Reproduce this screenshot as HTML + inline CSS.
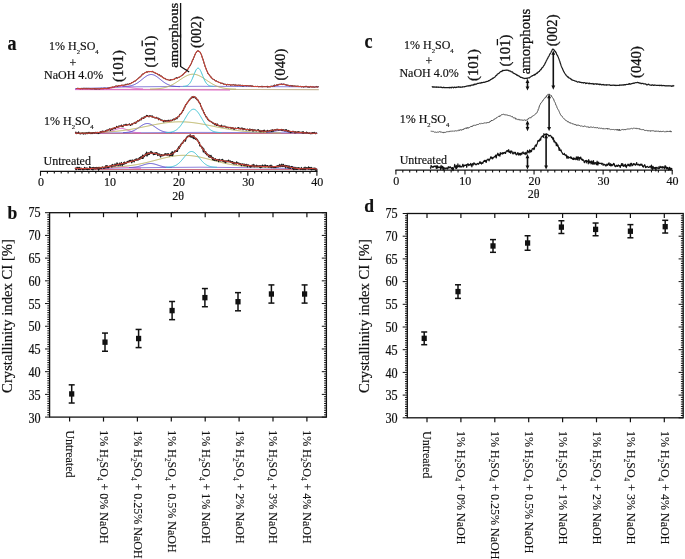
<!DOCTYPE html>
<html><head><meta charset="utf-8"><style>
html,body{margin:0;padding:0;background:#fff;}
svg{display:block;font-family:"Liberation Serif",serif;}
text{stroke:#111;stroke-width:0.18px;}
svg{will-change:transform;}
text.pk{stroke-width:0.3px;}
text.ns{stroke-width:0.12px;}
</style></head><body>
<svg width="685" height="559" viewBox="0 0 685 559">
<rect width="685" height="559" fill="#fff"/>
<text transform="translate(7.5,49.5) scale(1,1.12)" font-size="18" font-weight="bold" fill="#111">a</text>
<text transform="translate(364.5,48) scale(1,1.12)" font-size="18" font-weight="bold" fill="#111">c</text>
<text transform="translate(7.6,218.7) scale(1,1.1)" font-size="17.6" font-weight="bold" fill="#111">b</text>
<text transform="translate(364.3,212.2) scale(1,1.1)" font-size="17.6" font-weight="bold" fill="#111">d</text>
<line x1="40" y1="171.3" x2="317.4" y2="171.3" stroke="#111" stroke-width="1.3"/>
<line x1="40.5" y1="171.3" x2="40.5" y2="175.8" stroke="#111" stroke-width="1.1"/>
<line x1="47.41" y1="171.3" x2="47.41" y2="173.6" stroke="#111" stroke-width="1.1"/>
<line x1="54.32" y1="171.3" x2="54.32" y2="173.6" stroke="#111" stroke-width="1.1"/>
<line x1="61.23" y1="171.3" x2="61.23" y2="173.6" stroke="#111" stroke-width="1.1"/>
<line x1="68.14" y1="171.3" x2="68.14" y2="173.6" stroke="#111" stroke-width="1.1"/>
<line x1="75.05" y1="171.3" x2="75.05" y2="173.6" stroke="#111" stroke-width="1.1"/>
<line x1="81.96" y1="171.3" x2="81.96" y2="173.6" stroke="#111" stroke-width="1.1"/>
<line x1="88.87" y1="171.3" x2="88.87" y2="173.6" stroke="#111" stroke-width="1.1"/>
<line x1="95.78" y1="171.3" x2="95.78" y2="173.6" stroke="#111" stroke-width="1.1"/>
<line x1="102.69" y1="171.3" x2="102.69" y2="173.6" stroke="#111" stroke-width="1.1"/>
<line x1="109.6" y1="171.3" x2="109.6" y2="175.8" stroke="#111" stroke-width="1.1"/>
<line x1="116.51" y1="171.3" x2="116.51" y2="173.6" stroke="#111" stroke-width="1.1"/>
<line x1="123.42" y1="171.3" x2="123.42" y2="173.6" stroke="#111" stroke-width="1.1"/>
<line x1="130.33" y1="171.3" x2="130.33" y2="173.6" stroke="#111" stroke-width="1.1"/>
<line x1="137.24" y1="171.3" x2="137.24" y2="173.6" stroke="#111" stroke-width="1.1"/>
<line x1="144.15" y1="171.3" x2="144.15" y2="173.6" stroke="#111" stroke-width="1.1"/>
<line x1="151.06" y1="171.3" x2="151.06" y2="173.6" stroke="#111" stroke-width="1.1"/>
<line x1="157.97" y1="171.3" x2="157.97" y2="173.6" stroke="#111" stroke-width="1.1"/>
<line x1="164.88" y1="171.3" x2="164.88" y2="173.6" stroke="#111" stroke-width="1.1"/>
<line x1="171.79" y1="171.3" x2="171.79" y2="173.6" stroke="#111" stroke-width="1.1"/>
<line x1="178.7" y1="171.3" x2="178.7" y2="175.8" stroke="#111" stroke-width="1.1"/>
<line x1="185.61" y1="171.3" x2="185.61" y2="173.6" stroke="#111" stroke-width="1.1"/>
<line x1="192.52" y1="171.3" x2="192.52" y2="173.6" stroke="#111" stroke-width="1.1"/>
<line x1="199.43" y1="171.3" x2="199.43" y2="173.6" stroke="#111" stroke-width="1.1"/>
<line x1="206.34" y1="171.3" x2="206.34" y2="173.6" stroke="#111" stroke-width="1.1"/>
<line x1="213.25" y1="171.3" x2="213.25" y2="173.6" stroke="#111" stroke-width="1.1"/>
<line x1="220.16" y1="171.3" x2="220.16" y2="173.6" stroke="#111" stroke-width="1.1"/>
<line x1="227.07" y1="171.3" x2="227.07" y2="173.6" stroke="#111" stroke-width="1.1"/>
<line x1="233.98" y1="171.3" x2="233.98" y2="173.6" stroke="#111" stroke-width="1.1"/>
<line x1="240.89" y1="171.3" x2="240.89" y2="173.6" stroke="#111" stroke-width="1.1"/>
<line x1="247.8" y1="171.3" x2="247.8" y2="175.8" stroke="#111" stroke-width="1.1"/>
<line x1="254.71" y1="171.3" x2="254.71" y2="173.6" stroke="#111" stroke-width="1.1"/>
<line x1="261.62" y1="171.3" x2="261.62" y2="173.6" stroke="#111" stroke-width="1.1"/>
<line x1="268.53" y1="171.3" x2="268.53" y2="173.6" stroke="#111" stroke-width="1.1"/>
<line x1="275.44" y1="171.3" x2="275.44" y2="173.6" stroke="#111" stroke-width="1.1"/>
<line x1="282.35" y1="171.3" x2="282.35" y2="173.6" stroke="#111" stroke-width="1.1"/>
<line x1="289.26" y1="171.3" x2="289.26" y2="173.6" stroke="#111" stroke-width="1.1"/>
<line x1="296.17" y1="171.3" x2="296.17" y2="173.6" stroke="#111" stroke-width="1.1"/>
<line x1="303.08" y1="171.3" x2="303.08" y2="173.6" stroke="#111" stroke-width="1.1"/>
<line x1="309.99" y1="171.3" x2="309.99" y2="173.6" stroke="#111" stroke-width="1.1"/>
<line x1="316.9" y1="171.3" x2="316.9" y2="175.8" stroke="#111" stroke-width="1.1"/>
<text transform="translate(40.9,186) scale(1,1)" font-size="12" text-anchor="middle" fill="#111">0</text>
<text transform="translate(110,186) scale(1,1)" font-size="12" text-anchor="middle" fill="#111">10</text>
<text transform="translate(179.1,186) scale(1,1)" font-size="12" text-anchor="middle" fill="#111">20</text>
<text transform="translate(248.2,186) scale(1,1)" font-size="12" text-anchor="middle" fill="#111">30</text>
<text transform="translate(317.3,186) scale(1,1)" font-size="12" text-anchor="middle" fill="#111">40</text>
<text transform="translate(178,199.5) scale(1,1)" font-size="12" text-anchor="middle" fill="#111">2θ</text>
<line x1="395.4" y1="170.1" x2="672.7" y2="170.1" stroke="#111" stroke-width="1.3"/>
<line x1="395.9" y1="170.1" x2="395.9" y2="174.6" stroke="#111" stroke-width="1.1"/>
<line x1="402.81" y1="170.1" x2="402.81" y2="172.4" stroke="#111" stroke-width="1.1"/>
<line x1="409.71" y1="170.1" x2="409.71" y2="172.4" stroke="#111" stroke-width="1.1"/>
<line x1="416.62" y1="170.1" x2="416.62" y2="172.4" stroke="#111" stroke-width="1.1"/>
<line x1="423.53" y1="170.1" x2="423.53" y2="172.4" stroke="#111" stroke-width="1.1"/>
<line x1="430.44" y1="170.1" x2="430.44" y2="172.4" stroke="#111" stroke-width="1.1"/>
<line x1="437.34" y1="170.1" x2="437.34" y2="172.4" stroke="#111" stroke-width="1.1"/>
<line x1="444.25" y1="170.1" x2="444.25" y2="172.4" stroke="#111" stroke-width="1.1"/>
<line x1="451.16" y1="170.1" x2="451.16" y2="172.4" stroke="#111" stroke-width="1.1"/>
<line x1="458.07" y1="170.1" x2="458.07" y2="172.4" stroke="#111" stroke-width="1.1"/>
<line x1="464.97" y1="170.1" x2="464.97" y2="174.6" stroke="#111" stroke-width="1.1"/>
<line x1="471.88" y1="170.1" x2="471.88" y2="172.4" stroke="#111" stroke-width="1.1"/>
<line x1="478.79" y1="170.1" x2="478.79" y2="172.4" stroke="#111" stroke-width="1.1"/>
<line x1="485.7" y1="170.1" x2="485.7" y2="172.4" stroke="#111" stroke-width="1.1"/>
<line x1="492.6" y1="170.1" x2="492.6" y2="172.4" stroke="#111" stroke-width="1.1"/>
<line x1="499.51" y1="170.1" x2="499.51" y2="172.4" stroke="#111" stroke-width="1.1"/>
<line x1="506.42" y1="170.1" x2="506.42" y2="172.4" stroke="#111" stroke-width="1.1"/>
<line x1="513.33" y1="170.1" x2="513.33" y2="172.4" stroke="#111" stroke-width="1.1"/>
<line x1="520.24" y1="170.1" x2="520.24" y2="172.4" stroke="#111" stroke-width="1.1"/>
<line x1="527.14" y1="170.1" x2="527.14" y2="172.4" stroke="#111" stroke-width="1.1"/>
<line x1="534.05" y1="170.1" x2="534.05" y2="174.6" stroke="#111" stroke-width="1.1"/>
<line x1="540.96" y1="170.1" x2="540.96" y2="172.4" stroke="#111" stroke-width="1.1"/>
<line x1="547.87" y1="170.1" x2="547.87" y2="172.4" stroke="#111" stroke-width="1.1"/>
<line x1="554.77" y1="170.1" x2="554.77" y2="172.4" stroke="#111" stroke-width="1.1"/>
<line x1="561.68" y1="170.1" x2="561.68" y2="172.4" stroke="#111" stroke-width="1.1"/>
<line x1="568.59" y1="170.1" x2="568.59" y2="172.4" stroke="#111" stroke-width="1.1"/>
<line x1="575.5" y1="170.1" x2="575.5" y2="172.4" stroke="#111" stroke-width="1.1"/>
<line x1="582.4" y1="170.1" x2="582.4" y2="172.4" stroke="#111" stroke-width="1.1"/>
<line x1="589.31" y1="170.1" x2="589.31" y2="172.4" stroke="#111" stroke-width="1.1"/>
<line x1="596.22" y1="170.1" x2="596.22" y2="172.4" stroke="#111" stroke-width="1.1"/>
<line x1="603.12" y1="170.1" x2="603.12" y2="174.6" stroke="#111" stroke-width="1.1"/>
<line x1="610.03" y1="170.1" x2="610.03" y2="172.4" stroke="#111" stroke-width="1.1"/>
<line x1="616.94" y1="170.1" x2="616.94" y2="172.4" stroke="#111" stroke-width="1.1"/>
<line x1="623.85" y1="170.1" x2="623.85" y2="172.4" stroke="#111" stroke-width="1.1"/>
<line x1="630.75" y1="170.1" x2="630.75" y2="172.4" stroke="#111" stroke-width="1.1"/>
<line x1="637.66" y1="170.1" x2="637.66" y2="172.4" stroke="#111" stroke-width="1.1"/>
<line x1="644.57" y1="170.1" x2="644.57" y2="172.4" stroke="#111" stroke-width="1.1"/>
<line x1="651.48" y1="170.1" x2="651.48" y2="172.4" stroke="#111" stroke-width="1.1"/>
<line x1="658.38" y1="170.1" x2="658.38" y2="172.4" stroke="#111" stroke-width="1.1"/>
<line x1="665.29" y1="170.1" x2="665.29" y2="172.4" stroke="#111" stroke-width="1.1"/>
<line x1="672.2" y1="170.1" x2="672.2" y2="174.6" stroke="#111" stroke-width="1.1"/>
<text transform="translate(396.3,184.6) scale(1,1)" font-size="12" text-anchor="middle" fill="#111">0</text>
<text transform="translate(465.37,184.6) scale(1,1)" font-size="12" text-anchor="middle" fill="#111">10</text>
<text transform="translate(534.45,184.6) scale(1,1)" font-size="12" text-anchor="middle" fill="#111">20</text>
<text transform="translate(603.52,184.6) scale(1,1)" font-size="12" text-anchor="middle" fill="#111">30</text>
<text transform="translate(672.6,184.6) scale(1,1)" font-size="12" text-anchor="middle" fill="#111">40</text>
<text transform="translate(533.5,198) scale(1,1)" font-size="12" text-anchor="middle" fill="#111">2θ</text>
<polyline points="75,89.3 318.8,89.6" fill="none" stroke="#c8b89a" stroke-width="1.1" stroke-linejoin="round"/>
<polyline points="75,89.6 230,90" fill="none" stroke="#e060c8" stroke-width="1" stroke-linejoin="round"/>
<polyline points="75,88.6 110,87.6 125,86.9 200,86.3 318.8,86.9" fill="none" stroke="#8c84dc" stroke-width="1" stroke-linejoin="round"/>
<polyline points="101,88.92 101.5,88.91 102,88.89 102.5,88.87 103,88.85 103.5,88.83 104,88.8 104.5,88.77 105,88.74 105.5,88.7 106,88.66 106.5,88.62 107,88.57 107.5,88.52 108,88.46 108.5,88.4 109,88.33 109.5,88.26 110,88.19 110.5,88.11 111,88.03 111.5,87.94 112,87.86 112.5,87.76 113,87.67 113.5,87.58 114,87.48 114.5,87.39 115,87.3 115.5,87.2 116,87.11 116.5,87.03 117,86.94 117.5,86.87 118,86.79 118.5,86.73 119,86.67 119.5,86.62 120,86.58 120.5,86.54 121,86.52 121.5,86.5 122,86.5 122.5,86.5 123,86.52 123.5,86.54 124,86.58 124.5,86.62 125,86.67 125.5,86.73 126,86.79 126.5,86.87 127,86.94 127.5,87.03 128,87.11 128.5,87.2 129,87.3 129.5,87.39 130,87.48 130.5,87.58 131,87.67 131.5,87.76 132,87.86 132.5,87.94 133,88.03 133.5,88.11 134,88.19 134.5,88.26 135,88.33 135.5,88.4 136,88.46 136.5,88.52 137,88.57 137.5,88.62 138,88.66 138.5,88.7 139,88.74 139.5,88.77 140,88.8 140.5,88.83 141,88.85 141.5,88.87 142,88.89 142.5,88.91 143,88.92" fill="none" stroke="#e060c8" stroke-width="1" stroke-linejoin="round"/>
<polyline points="122.5,86.62 123,86.61 123.5,86.59 124,86.57 124.5,86.55 125,86.52 125.5,86.49 126,86.46 126.5,86.42 127,86.37 127.5,86.32 128,86.26 128.5,86.19 129,86.12 129.5,86.03 130,85.94 130.5,85.83 131,85.72 131.5,85.59 132,85.45 132.5,85.29 133,85.12 133.5,84.94 134,84.74 134.5,84.52 135,84.29 135.5,84.04 136,83.77 136.5,83.49 137,83.19 137.5,82.87 138,82.54 138.5,82.19 139,81.83 139.5,81.46 140,81.08 140.5,80.68 141,80.28 141.5,79.87 142,79.46 142.5,79.05 143,78.64 143.5,78.24 144,77.84 144.5,77.45 145,77.08 145.5,76.72 146,76.38 146.5,76.06 147,75.76 147.5,75.49 148,75.25 148.5,75.04 149,74.86 149.5,74.72 150,74.61 150.5,74.54 151,74.5 151.5,74.51 152,74.55 152.5,74.63 153,74.74 153.5,74.89 154,75.08 154.5,75.29 155,75.54 155.5,75.82 156,76.12 156.5,76.44 157,76.79 157.5,77.15 158,77.53 158.5,77.92 159,78.32 159.5,78.73 160,79.14 160.5,79.55 161,79.96 161.5,80.36 162,80.76 162.5,81.15 163,81.53 163.5,81.91 164,82.26 164.5,82.61 165,82.93 165.5,83.25 166,83.54 166.5,83.82 167,84.09 167.5,84.33 168,84.56 168.5,84.78 169,84.97 169.5,85.16 170,85.32 170.5,85.48 171,85.62 171.5,85.74 172,85.86 172.5,85.96 173,86.05 173.5,86.13 174,86.21 174.5,86.27 175,86.33 175.5,86.38 176,86.43 176.5,86.47 177,86.5 177.5,86.53 178,86.56 178.5,86.58 179,86.6 179.5,86.61 180,86.63" fill="none" stroke="#5a4ecf" stroke-width="1" stroke-linejoin="round"/>
<polyline points="150,89.11 150.5,89.1 151,89.09 151.5,89.08 152,89.06 152.5,89.04 153,89.03 153.5,89.01 154,88.98 154.5,88.96 155,88.93 155.5,88.9 156,88.87 156.5,88.83 157,88.79 157.5,88.75 158,88.7 158.5,88.65 159,88.6 159.5,88.54 160,88.48 160.5,88.41 161,88.33 161.5,88.25 162,88.17 162.5,88.08 163,87.98 163.5,87.87 164,87.76 164.5,87.64 165,87.51 165.5,87.37 166,87.23 166.5,87.08 167,86.92 167.5,86.75 168,86.57 168.5,86.38 169,86.18 169.5,85.98 170,85.76 170.5,85.54 171,85.3 171.5,85.06 172,84.81 172.5,84.55 173,84.28 173.5,84 174,83.71 174.5,83.42 175,83.11 175.5,82.81 176,82.49 176.5,82.17 177,81.85 177.5,81.52 178,81.18 178.5,80.85 179,80.51 179.5,80.17 180,79.83 180.5,79.49 181,79.16 181.5,78.82 182,78.49 182.5,78.17 183,77.85 183.5,77.53 184,77.23 184.5,76.93 185,76.65 185.5,76.37 186,76.11 186.5,75.86 187,75.63 187.5,75.41 188,75.21 188.5,75.02 189,74.85 189.5,74.7 190,74.57 190.5,74.46 191,74.37 191.5,74.29 192,74.24 192.5,74.21 193,74.2 193.5,74.21 194,74.24 194.5,74.29 195,74.37 195.5,74.46 196,74.57 196.5,74.7 197,74.85 197.5,75.02 198,75.21 198.5,75.41 199,75.63 199.5,75.86 200,76.11 200.5,76.37 201,76.65 201.5,76.93 202,77.23 202.5,77.53 203,77.85 203.5,78.17 204,78.49 204.5,78.82 205,79.16 205.5,79.49 206,79.83 206.5,80.17 207,80.51 207.5,80.85 208,81.18 208.5,81.52 209,81.85 209.5,82.17 210,82.49 210.5,82.81 211,83.11 211.5,83.42 212,83.71 212.5,84 213,84.28 213.5,84.55 214,84.81 214.5,85.06 215,85.3 215.5,85.54 216,85.76 216.5,85.98 217,86.18 217.5,86.38 218,86.57 218.5,86.75 219,86.92 219.5,87.08 220,87.23 220.5,87.37 221,87.51 221.5,87.64 222,87.76 222.5,87.87 223,87.98 223.5,88.08 224,88.17 224.5,88.25 225,88.33 225.5,88.41 226,88.48 226.5,88.54 227,88.6 227.5,88.65 228,88.7 228.5,88.75 229,88.79 229.5,88.83 230,88.87 230.5,88.9 231,88.93 231.5,88.96 232,88.98 232.5,89.01 233,89.03 233.5,89.04 234,89.06 234.5,89.08 235,89.09 235.5,89.1 236,89.11" fill="none" stroke="#b9b25e" stroke-width="1" stroke-linejoin="round"/>
<polyline points="183,86.35 183.5,86.33 184,86.29 184.5,86.25 185,86.18 185.5,86.1 186,85.98 186.5,85.83 187,85.64 187.5,85.39 188,85.09 188.5,84.71 189,84.24 189.5,83.69 190,83.04 190.5,82.28 191,81.42 191.5,80.46 192,79.4 192.5,78.26 193,77.05 193.5,75.8 194,74.54 194.5,73.31 195,72.12 195.5,71.03 196,70.07 196.5,69.27 197,68.66 197.5,68.27 198,68.1 198.5,68.18 199,68.48 199.5,69 200,69.73 200.5,70.63 201,71.67 201.5,72.82 202,74.04 202.5,75.3 203,76.56 203.5,77.78 204,78.95 204.5,80.05 205,81.05 205.5,81.95 206,82.75 206.5,83.44 207,84.03 207.5,84.53 208,84.94 208.5,85.28 209,85.55 209.5,85.76 210,85.93 210.5,86.05 211,86.15 211.5,86.22 212,86.28 212.5,86.31 213,86.34 213.5,86.36" fill="none" stroke="#3fc4d4" stroke-width="1" stroke-linejoin="round"/>
<polyline points="271,86.35 271.5,86.33 272,86.3 272.5,86.27 273,86.22 273.5,86.17 274,86.1 274.5,86.02 275,85.92 275.5,85.81 276,85.69 276.5,85.55 277,85.39 277.5,85.23 278,85.07 278.5,84.9 279,84.74 279.5,84.59 280,84.46 280.5,84.35 281,84.27 281.5,84.22 282,84.2 282.5,84.22 283,84.27 283.5,84.35 284,84.46 284.5,84.59 285,84.74 285.5,84.9 286,85.07 286.5,85.23 287,85.39 287.5,85.55 288,85.69 288.5,85.81 289,85.92 289.5,86.02 290,86.1 290.5,86.17 291,86.22 291.5,86.27 292,86.3 292.5,86.33 293,86.35" fill="none" stroke="#5a4ecf" stroke-width="1" stroke-linejoin="round"/>
<polyline points="75,133.5 317.3,133.5" fill="none" stroke="#d07080" stroke-width="1" stroke-linejoin="round"/>
<polyline points="75,133 150,132.7 200,132.4 260,132.6 317.3,133.1" fill="none" stroke="#8c84dc" stroke-width="1" stroke-linejoin="round"/>
<polyline points="101,132.92 101.5,132.91 102,132.88 102.5,132.86 103,132.83 103.5,132.8 104,132.76 104.5,132.71 105,132.66 105.5,132.6 106,132.54 106.5,132.46 107,132.38 107.5,132.28 108,132.18 108.5,132.07 109,131.94 109.5,131.81 110,131.66 110.5,131.51 111,131.34 111.5,131.17 112,130.99 112.5,130.8 113,130.61 113.5,130.41 114,130.21 114.5,130.01 115,129.81 115.5,129.62 116,129.44 116.5,129.26 117,129.09 117.5,128.94 118,128.8 118.5,128.68 119,128.58 119.5,128.5 120,128.45 120.5,128.41 121,128.4 121.5,128.41 122,128.45 122.5,128.5 123,128.58 123.5,128.68 124,128.8 124.5,128.94 125,129.09 125.5,129.26 126,129.44 126.5,129.62 127,129.81 127.5,130.01 128,130.21 128.5,130.41 129,130.61 129.5,130.8 130,130.99 130.5,131.17 131,131.34 131.5,131.51 132,131.66 132.5,131.81 133,131.94 133.5,132.07 134,132.18 134.5,132.28 135,132.38 135.5,132.46 136,132.54 136.5,132.6 137,132.66 137.5,132.71 138,132.76 138.5,132.8 139,132.83 139.5,132.86 140,132.88 140.5,132.91 141,132.92" fill="none" stroke="#e060c8" stroke-width="1" stroke-linejoin="round"/>
<polyline points="123,132.62 123.5,132.6 124,132.58 124.5,132.56 125,132.53 125.5,132.5 126,132.46 126.5,132.41 127,132.36 127.5,132.3 128,132.23 128.5,132.16 129,132.07 129.5,131.97 130,131.86 130.5,131.74 131,131.61 131.5,131.45 132,131.29 132.5,131.11 133,130.91 133.5,130.7 134,130.47 134.5,130.22 135,129.96 135.5,129.68 136,129.39 136.5,129.09 137,128.77 137.5,128.44 138,128.1 138.5,127.75 139,127.4 139.5,127.05 140,126.7 140.5,126.35 141,126.01 141.5,125.67 142,125.35 142.5,125.05 143,124.77 143.5,124.51 144,124.27 144.5,124.06 145,123.88 145.5,123.74 146,123.62 146.5,123.55 147,123.51 147.5,123.5 148,123.54 148.5,123.61 149,123.71 149.5,123.85 150,124.02 150.5,124.22 151,124.46 151.5,124.71 152,124.99 152.5,125.29 153,125.61 153.5,125.94 154,126.28 154.5,126.63 155,126.98 155.5,127.33 156,127.68 156.5,128.03 157,128.37 157.5,128.7 158,129.02 158.5,129.33 159,129.63 159.5,129.91 160,130.17 160.5,130.42 161,130.65 161.5,130.87 162,131.07 162.5,131.25 163,131.42 163.5,131.58 164,131.72 164.5,131.84 165,131.95 165.5,132.05 166,132.14 166.5,132.22 167,132.29 167.5,132.35 168,132.4 168.5,132.45 169,132.49 169.5,132.52 170,132.55 170.5,132.58 171,132.6 171.5,132.62 172,132.63" fill="none" stroke="#5a4ecf" stroke-width="1" stroke-linejoin="round"/>
<polyline points="79.5,132.89 80,132.89 80.5,132.88 81,132.88 81.5,132.87 82,132.86 82.5,132.86 83,132.85 83.5,132.84 84,132.84 84.5,132.83 85,132.82 85.5,132.81 86,132.81 86.5,132.8 87,132.79 87.5,132.78 88,132.77 88.5,132.76 89,132.75 89.5,132.74 90,132.73 90.5,132.72 91,132.71 91.5,132.69 92,132.68 92.5,132.67 93,132.65 93.5,132.64 94,132.62 94.5,132.61 95,132.59 95.5,132.58 96,132.56 96.5,132.54 97,132.53 97.5,132.51 98,132.49 98.5,132.47 99,132.45 99.5,132.43 100,132.41 100.5,132.38 101,132.36 101.5,132.34 102,132.31 102.5,132.29 103,132.26 103.5,132.24 104,132.21 104.5,132.18 105,132.15 105.5,132.12 106,132.09 106.5,132.06 107,132.03 107.5,132 108,131.96 108.5,131.93 109,131.89 109.5,131.86 110,131.82 110.5,131.78 111,131.74 111.5,131.7 112,131.66 112.5,131.62 113,131.57 113.5,131.53 114,131.48 114.5,131.44 115,131.39 115.5,131.34 116,131.29 116.5,131.24 117,131.19 117.5,131.14 118,131.08 118.5,131.03 119,130.97 119.5,130.91 120,130.86 120.5,130.8 121,130.73 121.5,130.67 122,130.61 122.5,130.55 123,130.48 123.5,130.41 124,130.35 124.5,130.28 125,130.21 125.5,130.14 126,130.06 126.5,129.99 127,129.92 127.5,129.84 128,129.76 128.5,129.69 129,129.61 129.5,129.53 130,129.45 130.5,129.36 131,129.28 131.5,129.2 132,129.11 132.5,129.03 133,128.94 133.5,128.85 134,128.76 134.5,128.67 135,128.58 135.5,128.49 136,128.4 136.5,128.3 137,128.21 137.5,128.11 138,128.02 138.5,127.92 139,127.82 139.5,127.73 140,127.63 140.5,127.53 141,127.43 141.5,127.33 142,127.23 142.5,127.13 143,127.03 143.5,126.92 144,126.82 144.5,126.72 145,126.62 145.5,126.52 146,126.41 146.5,126.31 147,126.21 147.5,126.1 148,126 148.5,125.9 149,125.8 149.5,125.69 150,125.59 150.5,125.49 151,125.39 151.5,125.29 152,125.19 152.5,125.09 153,124.99 153.5,124.89 154,124.79 154.5,124.69 155,124.59 155.5,124.5 156,124.4 156.5,124.31 157,124.22 157.5,124.12 158,124.03 158.5,123.94 159,123.85 159.5,123.77 160,123.68 160.5,123.59 161,123.51 161.5,123.43 162,123.35 162.5,123.27 163,123.19 163.5,123.12 164,123.04 164.5,122.97 165,122.9 165.5,122.83 166,122.76 166.5,122.7 167,122.64 167.5,122.58 168,122.52 168.5,122.46 169,122.41 169.5,122.35 170,122.3 170.5,122.25 171,122.21 171.5,122.17 172,122.12 172.5,122.09 173,122.05 173.5,122.02 174,121.98 174.5,121.95 175,121.93 175.5,121.9 176,121.88 176.5,121.86 177,121.85 177.5,121.83 178,121.82 178.5,121.81 179,121.81 179.5,121.8 180,121.8 180.5,121.8 181,121.81 181.5,121.81 182,121.82 182.5,121.83 183,121.85 183.5,121.86 184,121.88 184.5,121.9 185,121.93 185.5,121.95 186,121.98 186.5,122.02 187,122.05 187.5,122.09 188,122.12 188.5,122.17 189,122.21 189.5,122.25 190,122.3 190.5,122.35 191,122.41 191.5,122.46 192,122.52 192.5,122.58 193,122.64 193.5,122.7 194,122.76 194.5,122.83 195,122.9 195.5,122.97 196,123.04 196.5,123.12 197,123.19 197.5,123.27 198,123.35 198.5,123.43 199,123.51 199.5,123.59 200,123.68 200.5,123.77 201,123.85 201.5,123.94 202,124.03 202.5,124.12 203,124.22 203.5,124.31 204,124.4 204.5,124.5 205,124.59 205.5,124.69 206,124.79 206.5,124.89 207,124.99 207.5,125.09 208,125.19 208.5,125.29 209,125.39 209.5,125.49 210,125.59 210.5,125.69 211,125.8 211.5,125.9 212,126 212.5,126.1 213,126.21 213.5,126.31 214,126.41 214.5,126.52 215,126.62 215.5,126.72 216,126.82 216.5,126.92 217,127.03 217.5,127.13 218,127.23 218.5,127.33 219,127.43 219.5,127.53 220,127.63 220.5,127.73 221,127.82 221.5,127.92 222,128.02 222.5,128.11 223,128.21 223.5,128.3 224,128.4 224.5,128.49 225,128.58 225.5,128.67 226,128.76 226.5,128.85 227,128.94 227.5,129.03 228,129.11 228.5,129.2 229,129.28 229.5,129.36 230,129.45 230.5,129.53 231,129.61 231.5,129.69 232,129.76 232.5,129.84 233,129.92 233.5,129.99 234,130.06 234.5,130.14 235,130.21 235.5,130.28 236,130.35 236.5,130.41 237,130.48 237.5,130.55 238,130.61 238.5,130.67 239,130.73 239.5,130.8 240,130.86 240.5,130.91 241,130.97 241.5,131.03 242,131.08 242.5,131.14 243,131.19 243.5,131.24 244,131.29 244.5,131.34 245,131.39 245.5,131.44 246,131.48 246.5,131.53 247,131.57 247.5,131.62 248,131.66 248.5,131.7 249,131.74 249.5,131.78 250,131.82 250.5,131.86 251,131.89 251.5,131.93 252,131.96 252.5,132 253,132.03 253.5,132.06 254,132.09 254.5,132.12 255,132.15 255.5,132.18 256,132.21 256.5,132.24 257,132.26 257.5,132.29 258,132.31 258.5,132.34 259,132.36 259.5,132.38 260,132.41 260.5,132.43 261,132.45 261.5,132.47 262,132.49 262.5,132.51 263,132.53 263.5,132.54 264,132.56 264.5,132.58 265,132.59 265.5,132.61 266,132.62 266.5,132.64 267,132.65 267.5,132.67 268,132.68 268.5,132.69 269,132.71 269.5,132.72 270,132.73 270.5,132.74 271,132.75 271.5,132.76 272,132.77 272.5,132.78 273,132.79 273.5,132.8 274,132.81 274.5,132.81 275,132.82 275.5,132.83 276,132.84 276.5,132.84 277,132.85 277.5,132.86 278,132.86 278.5,132.87 279,132.88 279.5,132.88 280,132.89 280.5,132.89" fill="none" stroke="#b9b25e" stroke-width="1" stroke-linejoin="round"/>
<polyline points="165.5,132.62 166,132.6 166.5,132.58 167,132.56 167.5,132.53 168,132.49 168.5,132.45 169,132.4 169.5,132.34 170,132.27 170.5,132.19 171,132.1 171.5,132 172,131.88 172.5,131.74 173,131.59 173.5,131.41 174,131.21 174.5,130.99 175,130.74 175.5,130.46 176,130.15 176.5,129.82 177,129.44 177.5,129.03 178,128.59 178.5,128.11 179,127.59 179.5,127.03 180,126.44 180.5,125.81 181,125.14 181.5,124.44 182,123.7 182.5,122.94 183,122.14 183.5,121.33 184,120.49 184.5,119.65 185,118.79 185.5,117.93 186,117.08 186.5,116.23 187,115.41 187.5,114.6 188,113.83 188.5,113.1 189,112.41 189.5,111.78 190,111.2 190.5,110.69 191,110.24 191.5,109.87 192,109.58 192.5,109.37 193,109.24 193.5,109.2 194,109.24 194.5,109.37 195,109.58 195.5,109.87 196,110.24 196.5,110.69 197,111.2 197.5,111.78 198,112.41 198.5,113.1 199,113.83 199.5,114.6 200,115.41 200.5,116.23 201,117.08 201.5,117.93 202,118.79 202.5,119.65 203,120.49 203.5,121.33 204,122.14 204.5,122.94 205,123.7 205.5,124.44 206,125.14 206.5,125.81 207,126.44 207.5,127.03 208,127.59 208.5,128.11 209,128.59 209.5,129.03 210,129.44 210.5,129.82 211,130.15 211.5,130.46 212,130.74 212.5,130.99 213,131.21 213.5,131.41 214,131.59 214.5,131.74 215,131.88 215.5,132 216,132.1 216.5,132.19 217,132.27 217.5,132.34 218,132.4 218.5,132.45 219,132.49 219.5,132.53 220,132.56 220.5,132.58 221,132.6 221.5,132.62" fill="none" stroke="#3fc4d4" stroke-width="1" stroke-linejoin="round"/>
<polyline points="266.5,132.44 267,132.42 267.5,132.39 268,132.36 268.5,132.33 269,132.29 269.5,132.24 270,132.18 270.5,132.12 271,132.04 271.5,131.96 272,131.87 272.5,131.77 273,131.66 273.5,131.55 274,131.43 274.5,131.31 275,131.19 275.5,131.07 276,130.96 276.5,130.85 277,130.75 277.5,130.67 278,130.6 278.5,130.55 279,130.51 279.5,130.5 280,130.51 280.5,130.53 281,130.58 281.5,130.64 282,130.72 282.5,130.81 283,130.91 283.5,131.02 284,131.14 284.5,131.26 285,131.38 285.5,131.5 286,131.62 286.5,131.73 287,131.83 287.5,131.93 288,132.01 288.5,132.09 289,132.16 289.5,132.22 290,132.27 290.5,132.31 291,132.35 291.5,132.38 292,132.41 292.5,132.43" fill="none" stroke="#5a4ecf" stroke-width="1" stroke-linejoin="round"/>
<polyline points="75,169.5 317.3,169.5" fill="none" stroke="#d07080" stroke-width="1" stroke-linejoin="round"/>
<polyline points="75,168.6 150,167.6 200,167.2 260,167.8 317.3,169" fill="none" stroke="#8c84dc" stroke-width="1" stroke-linejoin="round"/>
<polyline points="103,168.41 103.5,168.4 104,168.38 104.5,168.36 105,168.34 105.5,168.32 106,168.3 106.5,168.27 107,168.24 107.5,168.21 108,168.18 108.5,168.14 109,168.1 109.5,168.06 110,168.01 110.5,167.97 111,167.92 111.5,167.87 112,167.81 112.5,167.76 113,167.7 113.5,167.65 114,167.59 114.5,167.53 115,167.48 115.5,167.42 116,167.37 116.5,167.32 117,167.27 117.5,167.22 118,167.18 118.5,167.14 119,167.1 119.5,167.07 120,167.05 120.5,167.03 121,167.01 121.5,167 122,167 122.5,167 123,167.01 123.5,167.03 124,167.05 124.5,167.07 125,167.1 125.5,167.14 126,167.18 126.5,167.22 127,167.27 127.5,167.32 128,167.37 128.5,167.42 129,167.48 129.5,167.53 130,167.59 130.5,167.65 131,167.7 131.5,167.76 132,167.81 132.5,167.87 133,167.92 133.5,167.97 134,168.01 134.5,168.06 135,168.1 135.5,168.14 136,168.18 136.5,168.21 137,168.24 137.5,168.27 138,168.3 138.5,168.32 139,168.34 139.5,168.36 140,168.38 140.5,168.4 141,168.41" fill="none" stroke="#e060c8" stroke-width="1" stroke-linejoin="round"/>
<polyline points="129,167.53 129.5,167.52 130,167.5 130.5,167.48 131,167.46 131.5,167.43 132,167.4 132.5,167.36 133,167.32 133.5,167.28 134,167.22 134.5,167.17 135,167.1 135.5,167.03 136,166.95 136.5,166.86 137,166.77 137.5,166.67 138,166.55 138.5,166.44 139,166.31 139.5,166.17 140,166.03 140.5,165.88 141,165.73 141.5,165.57 142,165.41 142.5,165.25 143,165.08 143.5,164.91 144,164.75 144.5,164.59 145,164.44 145.5,164.29 146,164.15 146.5,164.02 147,163.9 147.5,163.8 148,163.7 148.5,163.63 149,163.57 149.5,163.53 150,163.51 150.5,163.5 151,163.51 151.5,163.54 152,163.59 152.5,163.66 153,163.74 153.5,163.84 154,163.95 154.5,164.07 155,164.2 155.5,164.35 156,164.5 156.5,164.65 157,164.82 157.5,164.98 158,165.15 158.5,165.31 159,165.48 159.5,165.64 160,165.79 160.5,165.94 161,166.09 161.5,166.23 162,166.36 162.5,166.48 163,166.6 163.5,166.71 164,166.81 164.5,166.9 165,166.98 165.5,167.06 166,167.13 166.5,167.19 167,167.25 167.5,167.3 168,167.34 168.5,167.38 169,167.41 169.5,167.44 170,167.47 170.5,167.49 171,167.51 171.5,167.52" fill="none" stroke="#5a4ecf" stroke-width="1" stroke-linejoin="round"/>
<polyline points="97.5,167.4 98,167.39 98.5,167.38 99,167.38 99.5,167.37 100,167.36 100.5,167.36 101,167.35 101.5,167.34 102,167.33 102.5,167.32 103,167.31 103.5,167.3 104,167.29 104.5,167.28 105,167.27 105.5,167.26 106,167.25 106.5,167.24 107,167.22 107.5,167.21 108,167.19 108.5,167.18 109,167.16 109.5,167.15 110,167.13 110.5,167.11 111,167.09 111.5,167.07 112,167.05 112.5,167.03 113,167.01 113.5,166.99 114,166.96 114.5,166.94 115,166.91 115.5,166.89 116,166.86 116.5,166.83 117,166.8 117.5,166.77 118,166.74 118.5,166.71 119,166.68 119.5,166.64 120,166.6 120.5,166.57 121,166.53 121.5,166.49 122,166.45 122.5,166.41 123,166.36 123.5,166.32 124,166.27 124.5,166.22 125,166.18 125.5,166.12 126,166.07 126.5,166.02 127,165.96 127.5,165.91 128,165.85 128.5,165.79 129,165.73 129.5,165.66 130,165.6 130.5,165.53 131,165.47 131.5,165.4 132,165.33 132.5,165.25 133,165.18 133.5,165.1 134,165.02 134.5,164.94 135,164.86 135.5,164.78 136,164.69 136.5,164.61 137,164.52 137.5,164.43 138,164.34 138.5,164.24 139,164.15 139.5,164.05 140,163.95 140.5,163.85 141,163.75 141.5,163.64 142,163.54 142.5,163.43 143,163.32 143.5,163.21 144,163.1 144.5,162.99 145,162.88 145.5,162.76 146,162.64 146.5,162.52 147,162.4 147.5,162.28 148,162.16 148.5,162.04 149,161.91 149.5,161.79 150,161.66 150.5,161.54 151,161.41 151.5,161.28 152,161.15 152.5,161.02 153,160.89 153.5,160.76 154,160.63 154.5,160.5 155,160.36 155.5,160.23 156,160.1 156.5,159.97 157,159.84 157.5,159.7 158,159.57 158.5,159.44 159,159.31 159.5,159.18 160,159.05 160.5,158.92 161,158.79 161.5,158.67 162,158.54 162.5,158.41 163,158.29 163.5,158.17 164,158.05 164.5,157.93 165,157.81 165.5,157.69 166,157.58 166.5,157.46 167,157.35 167.5,157.24 168,157.14 168.5,157.03 169,156.93 169.5,156.83 170,156.73 170.5,156.64 171,156.55 171.5,156.46 172,156.37 172.5,156.29 173,156.21 173.5,156.13 174,156.05 174.5,155.98 175,155.91 175.5,155.85 176,155.79 176.5,155.73 177,155.68 177.5,155.62 178,155.58 178.5,155.53 179,155.49 179.5,155.46 180,155.42 180.5,155.39 181,155.37 181.5,155.35 182,155.33 182.5,155.32 183,155.31 183.5,155.3 184,155.3 184.5,155.3 185,155.31 185.5,155.32 186,155.33 186.5,155.35 187,155.37 187.5,155.39 188,155.42 188.5,155.46 189,155.49 189.5,155.53 190,155.58 190.5,155.62 191,155.68 191.5,155.73 192,155.79 192.5,155.85 193,155.91 193.5,155.98 194,156.05 194.5,156.13 195,156.21 195.5,156.29 196,156.37 196.5,156.46 197,156.55 197.5,156.64 198,156.73 198.5,156.83 199,156.93 199.5,157.03 200,157.14 200.5,157.24 201,157.35 201.5,157.46 202,157.58 202.5,157.69 203,157.81 203.5,157.93 204,158.05 204.5,158.17 205,158.29 205.5,158.41 206,158.54 206.5,158.67 207,158.79 207.5,158.92 208,159.05 208.5,159.18 209,159.31 209.5,159.44 210,159.57 210.5,159.7 211,159.84 211.5,159.97 212,160.1 212.5,160.23 213,160.36 213.5,160.5 214,160.63 214.5,160.76 215,160.89 215.5,161.02 216,161.15 216.5,161.28 217,161.41 217.5,161.54 218,161.66 218.5,161.79 219,161.91 219.5,162.04 220,162.16 220.5,162.28 221,162.4 221.5,162.52 222,162.64 222.5,162.76 223,162.88 223.5,162.99 224,163.1 224.5,163.21 225,163.32 225.5,163.43 226,163.54 226.5,163.64 227,163.75 227.5,163.85 228,163.95 228.5,164.05 229,164.15 229.5,164.24 230,164.34 230.5,164.43 231,164.52 231.5,164.61 232,164.69 232.5,164.78 233,164.86 233.5,164.94 234,165.02 234.5,165.1 235,165.18 235.5,165.25 236,165.33 236.5,165.4 237,165.47 237.5,165.53 238,165.6 238.5,165.66 239,165.73 239.5,165.79 240,165.85 240.5,165.91 241,165.96 241.5,166.02 242,166.07 242.5,166.12 243,166.18 243.5,166.22 244,166.27 244.5,166.32 245,166.36 245.5,166.41 246,166.45 246.5,166.49 247,166.53 247.5,166.57 248,166.6 248.5,166.64 249,166.68 249.5,166.71 250,166.74 250.5,166.77 251,166.8 251.5,166.83 252,166.86 252.5,166.89 253,166.91 253.5,166.94 254,166.96 254.5,166.99 255,167.01 255.5,167.03 256,167.05 256.5,167.07 257,167.09 257.5,167.11 258,167.13 258.5,167.15 259,167.16 259.5,167.18 260,167.19 260.5,167.21 261,167.22 261.5,167.24 262,167.25 262.5,167.26 263,167.27 263.5,167.28 264,167.29 264.5,167.3 265,167.31 265.5,167.32 266,167.33 266.5,167.34 267,167.35 267.5,167.36 268,167.36 268.5,167.37 269,167.38 269.5,167.38 270,167.39 270.5,167.4" fill="none" stroke="#b9b25e" stroke-width="1" stroke-linejoin="round"/>
<polyline points="166,167.23 166.5,167.22 167,167.2 167.5,167.18 168,167.15 168.5,167.12 169,167.08 169.5,167.03 170,166.98 170.5,166.92 171,166.84 171.5,166.76 172,166.66 172.5,166.55 173,166.42 173.5,166.27 174,166.11 174.5,165.92 175,165.71 175.5,165.48 176,165.22 176.5,164.93 177,164.62 177.5,164.27 178,163.9 178.5,163.5 179,163.07 179.5,162.61 180,162.12 180.5,161.6 181,161.06 181.5,160.5 182,159.92 182.5,159.32 183,158.71 183.5,158.09 184,157.47 184.5,156.85 185,156.24 185.5,155.64 186,155.06 186.5,154.5 187,153.98 187.5,153.49 188,153.05 188.5,152.65 189,152.31 189.5,152.02 190,151.8 190.5,151.63 191,151.53 191.5,151.5 192,151.53 192.5,151.63 193,151.8 193.5,152.02 194,152.31 194.5,152.65 195,153.05 195.5,153.49 196,153.98 196.5,154.5 197,155.06 197.5,155.64 198,156.24 198.5,156.85 199,157.47 199.5,158.09 200,158.71 200.5,159.32 201,159.92 201.5,160.5 202,161.06 202.5,161.6 203,162.12 203.5,162.61 204,163.07 204.5,163.5 205,163.9 205.5,164.27 206,164.62 206.5,164.93 207,165.22 207.5,165.48 208,165.71 208.5,165.92 209,166.11 209.5,166.27 210,166.42 210.5,166.55 211,166.66 211.5,166.76 212,166.84 212.5,166.92 213,166.98 213.5,167.03 214,167.08 214.5,167.12 215,167.15 215.5,167.18 216,167.2 216.5,167.22 217,167.23" fill="none" stroke="#3fc4d4" stroke-width="1" stroke-linejoin="round"/>
<polyline points="270.5,167.24 271,167.22 271.5,167.2 272,167.18 272.5,167.15 273,167.12 273.5,167.08 274,167.04 274.5,166.99 275,166.93 275.5,166.87 276,166.81 276.5,166.74 277,166.67 277.5,166.6 278,166.53 278.5,166.46 279,166.39 279.5,166.32 280,166.26 280.5,166.21 281,166.17 281.5,166.13 282,166.11 282.5,166.1 283,166.1 283.5,166.12 284,166.14 284.5,166.18 285,166.22 285.5,166.27 286,166.33 286.5,166.4 287,166.47 287.5,166.54 288,166.62 288.5,166.69 289,166.76 289.5,166.82 290,166.89 290.5,166.94 291,167 291.5,167.04 292,167.09 292.5,167.12 293,167.16 293.5,167.18 294,167.21 294.5,167.23" fill="none" stroke="#5a4ecf" stroke-width="1" stroke-linejoin="round"/>
<polyline points="76.5,88.5 76.9,88.62 77.3,88.44 77.7,88.24 78.1,88.4 78.5,88.23 78.9,88.61 79.3,89.07 79.7,88.45 80.1,88.41 80.5,88.81 80.9,88.78 81.3,88.7 81.7,88.35 82.1,88.68 82.5,88.94 82.9,88.24 83.3,88.56 83.7,88.06 84.1,88.28 84.5,88.1 84.9,88.67 85.3,88.31 85.7,88.86 86.1,88.82 86.5,88.71 86.9,87.9 87.3,88.6 87.7,88.77 88.1,88.83 88.5,88.26 88.9,88.63 89.3,88.46 89.7,88.52 90.1,89.17 90.5,88.52 90.9,88.79 91.3,89.11 91.7,88.59 92.1,88.76 92.5,88.83 92.9,88.81 93.3,88.36 93.7,88.81 94.1,89.26 94.5,88.24 94.9,89.08 95.3,88.81 95.7,88.54 96.1,89.46 96.5,89.02 96.9,88.33 97.3,88.77 97.7,88.93 98.1,88.66 98.5,88.96 98.9,88.69 99.3,88.93 99.7,89.19 100.1,88.45 100.5,88.74 100.9,88.5 101.3,88.69 101.7,88.22 102.1,88.42 102.5,88.55 102.9,88.92 103.3,88.99 103.7,88.11 104.1,88.28 104.5,88.78 104.9,87.84 105.3,88.36 105.7,88.47 106.1,88.92 106.5,88.69 106.9,88.29 107.3,88.22 107.7,88.2 108.1,88.74 108.5,87.98 108.9,87.93 109.3,88.07 109.7,87.8 110.1,87.67 110.5,87.25 110.9,87.53 111.3,87.27 111.7,87.73 112.1,87.45 112.5,87.11 112.9,87.26 113.3,86.82 113.7,87.23 114.1,86.78 114.5,86.9 114.9,86.16 115.3,86.64 115.7,85.85 116.1,85.64 116.5,86.16 116.9,85.86 117.3,86.15 117.7,86.8 118.1,85.64 118.5,85.63 118.9,85.85 119.3,85.87 119.7,85.57 120.1,85.49 120.5,85.75 120.9,85.62 121.3,85.03 121.7,85.31 122.1,85.31 122.5,84.89 122.9,85.32 123.3,84.89 123.7,85.49 124.1,85.18 124.5,85.1 124.9,84.81 125.3,84.91 125.7,84.18 126.1,84.41 126.5,84.84 126.9,83.87 127.3,84.81 127.7,83.79 128.1,84.55 128.5,83.87 128.9,84.31 129.3,83.95 129.7,83.23 130.1,84.05 130.5,83.96 130.9,83.26 131.3,83 131.7,82.84 132.1,82.35 132.5,82.86 132.9,82.07 133.3,82.01 133.7,81.52 134.1,81.34 134.5,80.87 134.9,81.5 135.3,80.74 135.7,80.85 136.1,80.23 136.5,79.68 136.9,79.51 137.3,79.11 137.7,78.99 138.1,78.54 138.5,78.24 138.9,77.53 139.3,77.39 139.7,77.87 140.1,76.67 140.5,76.14 140.9,76.22 141.3,76.19 141.7,74.79 142.1,74.85 142.5,74.34 142.9,73.61 143.3,74.19 143.7,73.66 144.1,73.44 144.5,72.9 144.9,73.07 145.3,72.49 145.7,72.42 146.1,71.89 146.5,71.69 146.9,72.46 147.3,71.72 147.7,71.94 148.1,71.76 148.5,71.56 148.9,71.48 149.3,71.83 149.7,71.47 150.1,71.49 150.5,71.52 150.9,71.91 151.3,71.74 151.7,71.67 152.1,71.4 152.5,71.21 152.9,72.15 153.3,72.31 153.7,72.08 154.1,72.5 154.5,72.77 154.9,72.98 155.3,73.2 155.7,72.9 156.1,73.77 156.5,73 156.9,73.95 157.3,74.04 157.7,74.41 158.1,75 158.5,75.11 158.9,74.45 159.3,74.51 159.7,75.65 160.1,75.26 160.5,75.86 160.9,76.42 161.3,75.82 161.7,75.95 162.1,77.07 162.5,77.28 162.9,77.47 163.3,77.85 163.7,77.8 164.1,77.81 164.5,78.51 164.9,78.42 165.3,78.35 165.7,79.28 166.1,79.26 166.5,79.59 166.9,79.25 167.3,79.51 167.7,79.5 168.1,79.63 168.5,80.06 168.9,79.73 169.3,80.12 169.7,80.09 170.1,80.65 170.5,79.42 170.9,80.17 171.3,79.78 171.7,79.75 172.1,79.19 172.5,79.47 172.9,79.82 173.3,79.43 173.7,79.35 174.1,79.06 174.5,79.4 174.9,78.83 175.3,77.92 175.7,78.3 176.1,77.7 176.5,77.11 176.9,77.91 177.3,78.41 177.7,77.8 178.1,77.2 178.5,77.11 178.9,77.65 179.3,77.11 179.7,76.86 180.1,76.6 180.5,76.4 180.9,76.41 181.3,76.05 181.7,75.65 182.1,74.91 182.5,75.14 182.9,74.4 183.3,74.68 183.7,73.51 184.1,73.54 184.5,73.21 184.9,72.35 185.3,72.99 185.7,72.44 186.1,71.29 186.5,71.23 186.9,70.58 187.3,69 187.7,69.45 188.1,68.78 188.5,68.24 188.9,67.22 189.3,66.86 189.7,66.22 190.1,65.99 190.5,64.96 190.9,64.08 191.3,63.83 191.7,62.25 192.1,61.39 192.5,59.92 192.9,60.12 193.3,58.92 193.7,57.95 194.1,56.95 194.5,55.87 194.9,54.98 195.3,53.89 195.7,53.06 196.1,52.44 196.5,52.43 196.9,51.7 197.3,51.13 197.7,50.69 198.1,50.58 198.5,51.44 198.9,51.28 199.3,51.46 199.7,51.73 200.1,51.94 200.5,52.81 200.9,53.89 201.3,54.45 201.7,55.67 202.1,56.91 202.5,58.26 202.9,58.82 203.3,60.5 203.7,61.53 204.1,63.4 204.5,64.05 204.9,65.72 205.3,67.2 205.7,67.72 206.1,68.76 206.5,70.12 206.9,71.05 207.3,71.55 207.7,72.81 208.1,74.05 208.5,73.9 208.9,74.52 209.3,74.79 209.7,75.79 210.1,75.72 210.5,76.22 210.9,77.48 211.3,77.13 211.7,78.22 212.1,78.75 212.5,78.66 212.9,79.11 213.3,79.92 213.7,79.47 214.1,79.62 214.5,79.62 214.9,80.36 215.3,81.09 215.7,81.13 216.1,80.67 216.5,80.9 216.9,81.21 217.3,81.67 217.7,81.67 218.1,81.98 218.5,82.18 218.9,82.12 219.3,82.37 219.7,82.61 220.1,82.66 220.5,83.01 220.9,83.64 221.3,83.35 221.7,83.32 222.1,82.87 222.5,83.76 222.9,83.11 223.3,83.45 223.7,84.38 224.1,84.45 224.5,84.26 224.9,83.79 225.3,84.31 225.7,84.25 226.1,84.76 226.5,85.37 226.9,84.69 227.3,84.38 227.7,84.28 228.1,84.7 228.5,84.69 228.9,84.37 229.3,84.84 229.7,84.42 230.1,85.24 230.5,85.24 230.9,85.27 231.3,84.75 231.7,85.12 232.1,84.92 232.5,84.85 232.9,84.89 233.3,84.58 233.7,84.55 234.1,85.36 234.5,85.04 234.9,85.2 235.3,85.5 235.7,84.56 236.1,84.91 236.5,85.27 236.9,85.36 237.3,85.11 237.7,85.63 238.1,85.36 238.5,84.88 238.9,85 239.3,85.63 239.7,85.53 240.1,84.72 240.5,85.88 240.9,85.63 241.3,85.92 241.7,85.33 242.1,85.38 242.5,85.11 242.9,86.41 243.3,85.48 243.7,86.12 244.1,85.35 244.5,85.66 244.9,85.03 245.3,85.5 245.7,86 246.1,85.24 246.5,86.08 246.9,85.84 247.3,85.38 247.7,85.6 248.1,85.64 248.5,85.81 248.9,85.67 249.3,85.6 249.7,85.82 250.1,85.61 250.5,85.56 250.9,86.03 251.3,86.4 251.7,85.6 252.1,86.18 252.5,85.99 252.9,85.92 253.3,86.6 253.7,86.16 254.1,86.9 254.5,86.14 254.9,86.58 255.3,86.39 255.7,86.23 256.1,86.72 256.5,86.48 256.9,86.77 257.3,86.57 257.7,86.22 258.1,86.59 258.5,86.67 258.9,87 259.3,86.37 259.7,86.69 260.1,86.12 260.5,86.97 260.9,86.37 261.3,86.13 261.7,86.76 262.1,87.17 262.5,86.26 262.9,86.42 263.3,86.54 263.7,86.4 264.1,86.93 264.5,86.51 264.9,86.54 265.3,86.99 265.7,86.51 266.1,86.91 266.5,86.41 266.9,86.31 267.3,86.08 267.7,87.36 268.1,86.58 268.5,86.75 268.9,86.64 269.3,86.68 269.7,86.62 270.1,87.24 270.5,86.19 270.9,85.98 271.3,86.14 271.7,85.98 272.1,86.64 272.5,86.58 272.9,85.85 273.3,85.59 273.7,85.84 274.1,86.33 274.5,84.75 274.9,85.81 275.3,85.15 275.7,85.77 276.1,84.91 276.5,85.07 276.9,84.52 277.3,84.59 277.7,85.31 278.1,85.02 278.5,84.51 278.9,84.28 279.3,83.86 279.7,84.33 280.1,84.4 280.5,84.33 280.9,84.28 281.3,83.88 281.7,84.21 282.1,84.2 282.5,84.65 282.9,84.86 283.3,84.19 283.7,84.03 284.1,84.36 284.5,84.26 284.9,84.32 285.3,84.67 285.7,84.44 286.1,85.12 286.5,84.96 286.9,85.17 287.3,85.11 287.7,85.02 288.1,85.03 288.5,85.37 288.9,85.35 289.3,85.71 289.7,85.7 290.1,85.28 290.5,85.84 290.9,85.39 291.3,85.68 291.7,85.84 292.1,85.25 292.5,86.05 292.9,86.1 293.3,86.03 293.7,85.97 294.1,86.01 294.5,85.83 294.9,86.11 295.3,86.03 295.7,86.28 296.1,85.86 296.5,86.38 296.9,86.38 297.3,86.3 297.7,86.22 298.1,86.59 298.5,85.84 298.9,86.61 299.3,86.56 299.7,86.6 300.1,86.66 300.5,86.32 300.9,86.49 301.3,86.82 301.7,86.78 302.1,86.72 302.5,86.14 302.9,86.88 303.3,87.12 303.7,87.08 304.1,86.83 304.5,86.22 304.9,87.11 305.3,86.74 305.7,85.91 306.1,86.94 306.5,86.29 306.9,86.37 307.3,86.6 307.7,87.28 308.1,86.71 308.5,86.93 308.9,87.46 309.3,87.41 309.7,86.82 310.1,86.77 310.5,86.42 310.9,86.62 311.3,87.02 311.7,87.01 312.1,86.92 312.5,87.23 312.9,86.62 313.3,86.88 313.7,87.16 314.1,87.12 314.5,87.3 314.9,87.08 315.3,86.84 315.7,87.09 316.1,86.63 316.5,86.42 316.9,87.22 317.3,87.01 317.7,87.16 318.1,86.47 318.5,86.96" fill="none" stroke="#1a1a1a" stroke-width="1" stroke-linejoin="round"/>
<polyline points="76.5,88.5 77.5,88.54 78.5,88.58 79.5,88.61 80.5,88.64 81.5,88.67 82.5,88.7 83.5,88.72 84.5,88.74 85.5,88.76 86.5,88.77 87.5,88.79 88.5,88.79 89.5,88.8 90.5,88.8 91.5,88.8 92.5,88.79 93.5,88.79 94.5,88.78 95.5,88.77 96.5,88.75 97.5,88.74 98.5,88.72 99.5,88.7 100.5,88.67 101.5,88.64 102.5,88.62 103.5,88.58 104.5,88.55 105.5,88.51 106.5,88.45 107.5,88.32 108.5,88.13 109.5,87.89 110.5,87.64 111.5,87.37 112.5,87.12 113.5,86.9 114.5,86.69 115.5,86.48 116.5,86.26 117.5,86.05 118.5,85.85 119.5,85.66 120.5,85.5 121.5,85.36 122.5,85.26 123.5,85.17 124.5,85.07 125.5,84.92 126.5,84.71 127.5,84.46 128.5,84.16 129.5,83.83 130.5,83.46 131.5,83 132.5,82.48 133.5,81.91 134.5,81.32 135.5,80.66 136.5,79.93 137.5,79.15 138.5,78.34 139.5,77.48 140.5,76.5 141.5,75.5 142.5,74.56 143.5,73.8 144.5,73.16 145.5,72.57 146.5,72.12 147.5,71.87 148.5,71.71 149.5,71.59 150.5,71.52 151.5,71.51 152.5,71.7 153.5,72.05 154.5,72.5 155.5,72.97 156.5,73.43 157.5,73.98 158.5,74.6 159.5,75.23 160.5,75.86 161.5,76.54 162.5,77.27 163.5,77.97 164.5,78.56 165.5,79.02 166.5,79.44 167.5,79.8 168.5,79.99 169.5,79.98 170.5,79.91 171.5,79.79 172.5,79.63 173.5,79.39 174.5,79 175.5,78.61 176.5,78.25 177.5,77.86 178.5,77.44 179.5,76.95 180.5,76.38 181.5,75.72 182.5,74.96 183.5,74.13 184.5,73.22 185.5,72.16 186.5,70.96 187.5,69.64 188.5,68.22 189.5,66.62 190.5,64.84 191.5,62.88 192.5,60.56 193.5,58.1 194.5,55.83 195.5,53.54 196.5,51.9 197.5,51.01 198.5,50.88 199.5,51.63 200.5,52.84 201.5,55.15 202.5,58.22 203.5,61.2 204.5,64.32 205.5,67.24 206.5,70.06 207.5,72.28 208.5,73.99 209.5,75.42 210.5,76.61 211.5,77.64 212.5,78.57 213.5,79.39 214.5,80.09 215.5,80.68 216.5,81.2 217.5,81.66 218.5,82.07 219.5,82.46 220.5,82.84 221.5,83.22 222.5,83.63 223.5,84.01 224.5,84.31 225.5,84.47 226.5,84.58 227.5,84.67 228.5,84.75 229.5,84.81 230.5,84.87 231.5,84.93 232.5,84.99 233.5,85.05 234.5,85.1 235.5,85.16 236.5,85.21 237.5,85.26 238.5,85.3 239.5,85.35 240.5,85.41 241.5,85.46 242.5,85.5 243.5,85.55 244.5,85.6 245.5,85.65 246.5,85.7 247.5,85.76 248.5,85.83 249.5,85.91 250.5,86.01 251.5,86.11 252.5,86.22 253.5,86.32 254.5,86.41 255.5,86.48 256.5,86.54 257.5,86.59 258.5,86.65 259.5,86.7 260.5,86.74 261.5,86.77 262.5,86.79 263.5,86.8 264.5,86.79 265.5,86.78 266.5,86.75 267.5,86.71 268.5,86.67 269.5,86.61 270.5,86.55 271.5,86.47 272.5,86.29 273.5,86.02 274.5,85.73 275.5,85.47 276.5,85.17 277.5,84.88 278.5,84.65 279.5,84.5 280.5,84.36 281.5,84.25 282.5,84.2 283.5,84.26 284.5,84.48 285.5,84.75 286.5,85 287.5,85.22 288.5,85.45 289.5,85.66 290.5,85.81 291.5,85.92 292.5,86.02 293.5,86.1 294.5,86.17 295.5,86.24 296.5,86.3 297.5,86.36 298.5,86.43 299.5,86.49 300.5,86.55 301.5,86.61 302.5,86.67 303.5,86.72 304.5,86.76 305.5,86.79 306.5,86.81 307.5,86.83 308.5,86.84 309.5,86.85 310.5,86.86 311.5,86.87 312.5,86.88 313.5,86.9 314.5,86.92 315.5,86.96 316.5,87 317.5,87.04 318.5,87.09" fill="none" stroke="#cc4438" stroke-width="1.05" stroke-linejoin="round"/>
<polyline points="75,132.8 75.4,132.68 75.8,131.99 76.2,132.96 76.6,133.59 77,133.34 77.4,132.85 77.8,133.15 78.2,133.54 78.6,131.79 79,133.11 79.4,133.45 79.8,133.53 80.2,134.04 80.6,133.76 81,133.35 81.4,133.35 81.8,133.59 82.2,132.93 82.6,133.18 83,133.65 83.4,134.18 83.8,133.12 84.2,133.17 84.6,133.29 85,133.86 85.4,133.17 85.8,133.92 86.2,132.69 86.6,133.08 87,133.07 87.4,133.55 87.8,133.67 88.2,132.39 88.6,132.68 89,133.3 89.4,132.79 89.8,132.35 90.2,133.62 90.6,133.34 91,133.33 91.4,132.83 91.8,133.56 92.2,132.91 92.6,133.55 93,132.52 93.4,132.52 93.8,133.02 94.2,132.54 94.6,133.19 95,132.95 95.4,132.32 95.8,132.78 96.2,132.53 96.6,133.12 97,132.3 97.4,132.36 97.8,133.14 98.2,133.61 98.6,133.44 99,132.42 99.4,132.44 99.8,133.04 100.2,132.15 100.6,131.66 101,132.13 101.4,132.22 101.8,131.51 102.2,131.02 102.6,131.04 103,132.01 103.4,131.2 103.8,131.42 104.2,131.51 104.6,131.61 105,131.02 105.4,131.32 105.8,130.5 106.2,130.63 106.6,130.17 107,131.1 107.4,130.38 107.8,129.88 108.2,129.92 108.6,129.84 109,130.16 109.4,128.87 109.8,129.01 110.2,129.2 110.6,130.51 111,129.58 111.4,128.89 111.8,129.16 112.2,129.68 112.6,128.39 113,128.17 113.4,128.82 113.8,128.32 114.2,128.28 114.6,127.56 115,128.66 115.4,128.44 115.8,127.76 116.2,127.71 116.6,126.25 117,127.48 117.4,126.97 117.8,127.19 118.2,127.22 118.6,126.61 119,125.85 119.4,126.79 119.8,126.14 120.2,126.26 120.6,126.03 121,126.07 121.4,125 121.8,126.68 122.2,126.11 122.6,126.45 123,126.8 123.4,125.74 123.8,124.75 124.2,125.12 124.6,124.88 125,125.15 125.4,125.36 125.8,124.24 126.2,125.34 126.6,124.34 127,125.17 127.4,124.89 127.8,124.72 128.2,124.77 128.6,124.46 129,124.35 129.4,123.74 129.8,124.49 130.2,125.35 130.6,125.33 131,124.91 131.4,124.51 131.8,123.71 132.2,124.67 132.6,123.8 133,123.67 133.4,123.41 133.8,123.44 134.2,122.99 134.6,122.97 135,122.25 135.4,122.38 135.8,123.48 136.2,122.06 136.6,121.73 137,121.86 137.4,121.7 137.8,120.54 138.2,120.74 138.6,121.06 139,120.5 139.4,120.19 139.8,120.69 140.2,119.36 140.6,119.54 141,119.03 141.4,119.82 141.8,117.87 142.2,118.28 142.6,118.11 143,118.47 143.4,118.21 143.8,118.38 144.2,116.67 144.6,117.62 145,116.9 145.4,116.53 145.8,116.96 146.2,116.09 146.6,115.38 147,116.14 147.4,115.5 147.8,115.89 148.2,116.39 148.6,116.37 149,117.02 149.4,116.16 149.8,115.54 150.2,115.98 150.6,115.96 151,115.88 151.4,116.79 151.8,116.33 152.2,115.75 152.6,117.19 153,116.88 153.4,117.22 153.8,117.2 154.2,117.57 154.6,117.39 155,118.1 155.4,117.8 155.8,117.9 156.2,118.03 156.6,117.25 157,118.06 157.4,118.21 157.8,118.64 158.2,118.07 158.6,119.79 159,119.24 159.4,118.8 159.8,118.76 160.2,119.66 160.6,119.94 161,119.78 161.4,120.32 161.8,120.06 162.2,120.74 162.6,120.18 163,120.6 163.4,121.18 163.8,122.05 164.2,120.33 164.6,120.66 165,120.54 165.4,121.4 165.8,120.48 166.2,120.86 166.6,121.12 167,120.68 167.4,120.71 167.8,120.96 168.2,120.15 168.6,120.46 169,120.92 169.4,121.14 169.8,120.88 170.2,119.98 170.6,120.51 171,121.01 171.4,120.75 171.8,120.29 172.2,119.74 172.6,120.35 173,119.59 173.4,119.11 173.8,119.09 174.2,119.99 174.6,119.15 175,119.38 175.4,118.33 175.8,118.8 176.2,117.79 176.6,117.77 177,118.83 177.4,117.7 177.8,116.78 178.2,116.67 178.6,116.54 179,116.62 179.4,115.35 179.8,114.26 180.2,114.48 180.6,114.08 181,113.56 181.4,113.55 181.8,112.43 182.2,112.03 182.6,110.42 183,110.7 183.4,110.52 183.8,109 184.2,107.88 184.6,107.01 185,107.09 185.4,105.08 185.8,104.85 186.2,104.54 186.6,104.09 187,102.94 187.4,102.77 187.8,101.94 188.2,101.62 188.6,100.99 189,99.97 189.4,100.02 189.8,99.96 190.2,98.54 190.6,98.44 191,98.47 191.4,97.24 191.8,97.55 192.2,96.6 192.6,97.4 193,97.77 193.4,97.52 193.8,96.42 194.2,97.03 194.6,96.94 195,97.21 195.4,98.26 195.8,97.19 196.2,98.75 196.6,98.57 197,99.73 197.4,99.62 197.8,99.75 198.2,100.84 198.6,101.72 199,102.06 199.4,102.99 199.8,103.21 200.2,103.21 200.6,105.6 201,106.42 201.4,107.09 201.8,108 202.2,109.42 202.6,109.56 203,110.29 203.4,111.41 203.8,112.96 204.2,112.53 204.6,114.64 205,114.51 205.4,115 205.8,116.83 206.2,116.75 206.6,116.73 207,117.76 207.4,118.94 207.8,119.57 208.2,119.23 208.6,120.09 209,120.64 209.4,120.32 209.8,121.13 210.2,121.23 210.6,121.25 211,121.53 211.4,122.05 211.8,122.26 212.2,122.18 212.6,122.46 213,123.43 213.4,123.17 213.8,123.69 214.2,124.04 214.6,123.91 215,124.94 215.4,123.57 215.8,124.57 216.2,124.19 216.6,125.46 217,125.56 217.4,123.91 217.8,124.58 218.2,125.56 218.6,125.78 219,125.91 219.4,125.65 219.8,126.05 220.2,126.27 220.6,126.02 221,126.67 221.4,125.11 221.8,126.64 222.2,125.87 222.6,126.93 223,126.4 223.4,126.12 223.8,126.81 224.2,126.22 224.6,126.28 225,126.02 225.4,126.85 225.8,127.18 226.2,127.52 226.6,127.01 227,127.67 227.4,127.23 227.8,127.25 228.2,127.66 228.6,127.98 229,127.35 229.4,127.47 229.8,127.58 230.2,127.77 230.6,127.35 231,128.38 231.4,127.72 231.8,128.21 232.2,127.62 232.6,128.27 233,128.33 233.4,127.97 233.8,129.23 234.2,128.45 234.6,129.19 235,128.82 235.4,128.04 235.8,128.22 236.2,128.66 236.6,128.51 237,128.53 237.4,128.4 237.8,127.67 238.2,128.49 238.6,127.53 239,128.86 239.4,128.34 239.8,128.39 240.2,128.67 240.6,128.96 241,128.14 241.4,128.02 241.8,128.41 242.2,127.96 242.6,128.54 243,129.86 243.4,128.58 243.8,129.47 244.2,128.5 244.6,129.38 245,129.11 245.4,129.29 245.8,129.64 246.2,130.28 246.6,129.54 247,129.55 247.4,129.04 247.8,129.86 248.2,129.49 248.6,130.07 249,129.67 249.4,130.61 249.8,128.79 250.2,129.67 250.6,130.3 251,129.73 251.4,129.55 251.8,129.85 252.2,129.34 252.6,130.13 253,131.33 253.4,130.72 253.8,129.64 254.2,129.8 254.6,130.07 255,130.82 255.4,129.95 255.8,130.05 256.2,130.89 256.6,130.92 257,130.35 257.4,130.03 257.8,129.86 258.2,130.34 258.6,129.62 259,131.16 259.4,130.52 259.8,131.13 260.2,131.87 260.6,131.56 261,130.44 261.4,131.49 261.8,131.67 262.2,130.75 262.6,130.68 263,131.12 263.4,130.4 263.8,131.95 264.2,130.02 264.6,130.68 265,131.11 265.4,131.15 265.8,131.35 266.2,131.41 266.6,131.18 267,131.86 267.4,130.23 267.8,131.3 268.2,130.94 268.6,131.31 269,131.26 269.4,130.55 269.8,130.53 270.2,131.09 270.6,130.72 271,130.1 271.4,131.39 271.8,131.47 272.2,129.53 272.6,130.37 273,131.43 273.4,130.53 273.8,130.22 274.2,129.97 274.6,129.77 275,129.89 275.4,129.68 275.8,130.29 276.2,129.67 276.6,129.6 277,129.18 277.4,129.71 277.8,129.25 278.2,129.57 278.6,130.15 279,129.8 279.4,129.85 279.8,129.78 280.2,129.65 280.6,129.59 281,129.54 281.4,130.13 281.8,129.27 282.2,130.56 282.6,129.99 283,129.68 283.4,129.91 283.8,129.9 284.2,130.42 284.6,130.07 285,131.09 285.4,130.21 285.8,129.54 286.2,130.39 286.6,129.81 287,130.86 287.4,131.46 287.8,131.32 288.2,130.39 288.6,130.73 289,132.06 289.4,131.39 289.8,131.29 290.2,131.87 290.6,132.63 291,132.11 291.4,131.58 291.8,131.75 292.2,131.93 292.6,131.37 293,131.2 293.4,131.81 293.8,131.36 294.2,131.85 294.6,131.98 295,133.15 295.4,131.6 295.8,132.01 296.2,132.03 296.6,132.37 297,132.72 297.4,131.99 297.8,131.86 298.2,131.49 298.6,131.88 299,132.65 299.4,132.44 299.8,131.95 300.2,132.3 300.6,132.54 301,132.81 301.4,132.3 301.8,132.51 302.2,131.76 302.6,132.12 303,133.54 303.4,131.67 303.8,132.63 304.2,132.94 304.6,132.67 305,132.48 305.4,132.88 305.8,132.93 306.2,132.92 306.6,132.04 307,132.93 307.4,132.6 307.8,132.77 308.2,133.17 308.6,133.39 309,133.53 309.4,132.85 309.8,133.57 310.2,133.7 310.6,133.69 311,133.82 311.4,133.06 311.8,133.06 312.2,133.56 312.6,132.47 313,133.27 313.4,132.9 313.8,132.99 314.2,132.31 314.6,132.74 315,133.18 315.4,133.64 315.8,133.69 316.2,133.16 316.6,133.1 317,132.78" fill="none" stroke="#1a1a1a" stroke-width="1.1" stroke-linejoin="round"/>
<polyline points="75,133.1 76,133.12 77,133.15 78,133.16 79,133.18 80,133.19 81,133.2 82,133.2 83,133.2 84,133.2 85,133.19 86,133.18 87,133.16 88,133.15 89,133.13 90,133.11 91,133.08 92,133.04 93,132.98 94,132.91 95,132.82 96,132.72 97,132.62 98,132.51 99,132.39 100,132.24 101,132.07 102,131.88 103,131.67 104,131.45 105,131.19 106,130.88 107,130.54 108,130.17 109,129.81 110,129.46 111,129.1 112,128.72 113,128.36 114,128.01 115,127.7 116,127.42 117,127.17 118,126.92 119,126.69 120,126.47 121,126.24 122,126.02 123,125.81 124,125.61 125,125.4 126,125.2 127,125.02 128,124.84 129,124.66 130,124.47 131,124.25 132,124 133,123.7 134,123.3 135,122.79 136,122.22 137,121.6 138,120.97 139,120.36 140,119.8 141,119.29 142,118.73 143,118.14 144,117.57 145,117.05 146,116.62 147,116.32 148,116.2 149,116.23 150,116.33 151,116.49 152,116.7 153,116.94 154,117.2 155,117.48 156,117.76 157,118.15 158,118.65 159,119.19 160,119.71 161,120.14 162,120.42 163,120.62 164,120.8 165,120.96 166,121.08 167,121.17 168,121.2 169,121.13 170,120.92 171,120.61 172,120.26 173,119.88 174,119.38 175,118.8 176,118.21 177,117.59 178,116.88 179,116.01 180,114.88 181,113.5 182,111.95 183,110.27 184,108.18 185,106.2 186,104.6 187,103.16 188,101.82 189,100.55 190,99.27 191,98.14 192,97.29 193,96.61 194,96.58 195,97.16 196,98.03 197,99.02 198,100.39 199,102.04 200,103.86 201,106.07 202,108.44 203,110.64 204,112.8 205,114.83 206,116.5 207,117.94 208,119.22 209,120.28 210,121.1 211,121.78 212,122.36 213,122.87 214,123.34 215,123.8 216,124.26 217,124.71 218,125.15 219,125.54 220,125.88 221,126.15 222,126.36 223,126.51 224,126.65 225,126.8 226,126.97 227,127.15 228,127.34 229,127.52 230,127.7 231,127.86 232,128.01 233,128.13 234,128.24 235,128.34 236,128.42 237,128.51 238,128.59 239,128.67 240,128.76 241,128.86 242,128.96 243,129.06 244,129.17 245,129.27 246,129.38 247,129.48 248,129.59 249,129.69 250,129.8 251,129.9 252,130.01 253,130.11 254,130.21 255,130.32 256,130.42 257,130.54 258,130.66 259,130.79 260,130.91 261,131.02 262,131.11 263,131.18 264,131.22 265,131.25 266,131.27 267,131.29 268,131.3 269,131.15 270,130.77 271,130.44 272,130.29 273,130.18 274,130.09 275,130 276,129.89 277,129.78 278,129.68 279,129.61 280,129.61 281,129.69 282,129.85 283,130.06 284,130.29 285,130.52 286,130.72 287,130.88 288,131.02 289,131.17 290,131.32 291,131.46 292,131.6 293,131.73 294,131.86 295,131.98 296,132.09 297,132.19 298,132.29 299,132.38 300,132.47 301,132.56 302,132.65 303,132.73 304,132.81 305,132.88 306,132.95 307,133 308,133.05 309,133.09 310,133.11 311,133.13 312,133.15 313,133.16 314,133.18 315,133.19 316,133.2 317,133.2" fill="none" stroke="#cc4438" stroke-width="1.05" stroke-linejoin="round"/>
<polyline points="75,168.6 75.4,168.14 75.8,168.81 76.2,169.69 76.6,168.37 77,167.3 77.4,167.8 77.8,167.37 78.2,167.59 78.6,169.48 79,168.69 79.4,167.39 79.8,169.04 80.2,169.51 80.6,168.3 81,168.07 81.4,168.34 81.8,168.81 82.2,169.08 82.6,169.49 83,169.51 83.4,169.49 83.8,169.62 84.2,169.09 84.6,167.44 85,168.49 85.4,168.82 85.8,168.29 86.2,169.26 86.6,168.3 87,167.87 87.4,169.64 87.8,169.05 88.2,168.71 88.6,169.23 89,169.33 89.4,168.78 89.8,166.67 90.2,168 90.6,168.15 91,167.75 91.4,168.62 91.8,169.35 92.2,168.07 92.6,167.57 93,169.92 93.4,168.03 93.8,167.42 94.2,168.5 94.6,168.61 95,167.73 95.4,168.82 95.8,167.83 96.2,167.47 96.6,168.27 97,168.68 97.4,167.59 97.8,168.27 98.2,167.92 98.6,170.07 99,167.38 99.4,168.9 99.8,167.78 100.2,167.67 100.6,168.25 101,168.33 101.4,168.55 101.8,167.79 102.2,167.03 102.6,167.01 103,167.74 103.4,167.73 103.8,168.27 104.2,167.47 104.6,167.89 105,168.17 105.4,167.09 105.8,165.79 106.2,165.95 106.6,165.69 107,167.9 107.4,166 107.8,167.49 108.2,166.94 108.6,167.71 109,167.11 109.4,166.21 109.8,166.06 110.2,166.2 110.6,166.19 111,165.59 111.4,165.89 111.8,167.04 112.2,164.48 112.6,165.87 113,164.92 113.4,165.66 113.8,166.07 114.2,165.31 114.6,165.85 115,164 115.4,165.93 115.8,164.56 116.2,165.39 116.6,164.97 117,162.81 117.4,164.09 117.8,164.73 118.2,165.64 118.6,164.6 119,164.48 119.4,163.14 119.8,165.18 120.2,165.37 120.6,163.95 121,163.68 121.4,162.54 121.8,164.34 122.2,165.62 122.6,164.05 123,164.38 123.4,163.75 123.8,162.52 124.2,164.18 124.6,162.16 125,162.84 125.4,163.12 125.8,163.48 126.2,163.03 126.6,162.91 127,161.95 127.4,161.46 127.8,162.37 128.2,161.69 128.6,161.14 129,161.07 129.4,161.54 129.8,160.42 130.2,160.69 130.6,160.36 131,161.62 131.4,161.68 131.8,162.76 132.2,160.02 132.6,160.52 133,161.6 133.4,160.64 133.8,160.45 134.2,161.87 134.6,160.22 135,159.5 135.4,159.27 135.8,160.4 136.2,160.26 136.6,158.89 137,159.06 137.4,160.07 137.8,159.97 138.2,158.92 138.6,159.72 139,159.53 139.4,157.61 139.8,158.54 140.2,158.91 140.6,157.97 141,156.55 141.4,157.65 141.8,158.1 142.2,158.37 142.6,155.19 143,158.45 143.4,155.31 143.8,156.58 144.2,156.53 144.6,156.1 145,155.22 145.4,153.99 145.8,155.08 146.2,153.83 146.6,152.23 147,156.02 147.4,154.23 147.8,154.88 148.2,152.68 148.6,154.34 149,154.34 149.4,154.27 149.8,153.08 150.2,152.2 150.6,152.98 151,151.47 151.4,151.86 151.8,153.23 152.2,152.44 152.6,153.08 153,153.15 153.4,154.71 153.8,154.27 154.2,153.3 154.6,154.28 155,152.83 155.4,153.2 155.8,154.18 156.2,152.64 156.6,153.49 157,152.87 157.4,154.14 157.8,155.48 158.2,153.9 158.6,154.84 159,154.18 159.4,154.15 159.8,154.2 160.2,156.28 160.6,156.97 161,155.56 161.4,154.65 161.8,155.7 162.2,154.91 162.6,155.74 163,155.34 163.4,155.31 163.8,155.53 164.2,154.62 164.6,154.72 165,153.71 165.4,154.64 165.8,153.88 166.2,154.81 166.6,154.16 167,154.92 167.4,155.14 167.8,153.7 168.2,154.1 168.6,153.95 169,155.17 169.4,155.82 169.8,155.12 170.2,154.14 170.6,155.43 171,153.11 171.4,155.27 171.8,153.51 172.2,151.73 172.6,155.58 173,154.51 173.4,152.27 173.8,152.87 174.2,152.27 174.6,152.19 175,150.69 175.4,150.97 175.8,151.48 176.2,150.94 176.6,151.28 177,150.04 177.4,151.33 177.8,148.59 178.2,148.88 178.6,146.79 179,146.82 179.4,148.25 179.8,146.01 180.2,146.56 180.6,145.54 181,144.21 181.4,144.15 181.8,143.45 182.2,142.9 182.6,143.3 183,142.7 183.4,141.24 183.8,140.45 184.2,140.8 184.6,139.99 185,140.33 185.4,141.07 185.8,139.28 186.2,138.23 186.6,137.79 187,136.95 187.4,136.59 187.8,136.19 188.2,136.34 188.6,136.04 189,136.68 189.4,135.63 189.8,135.64 190.2,134.8 190.6,136.94 191,136.12 191.4,137.15 191.8,136.5 192.2,137.14 192.6,135.97 193,136.84 193.4,138.49 193.8,135.73 194.2,137.78 194.6,138.49 195,137.91 195.4,138.58 195.8,139.42 196.2,138.44 196.6,139.74 197,139.26 197.4,139.91 197.8,140.49 198.2,141.44 198.6,142.3 199,143.2 199.4,142.44 199.8,145.74 200.2,145.79 200.6,146.12 201,145.92 201.4,146.73 201.8,147.81 202.2,148.3 202.6,147.28 203,149.72 203.4,151.96 203.8,148.85 204.2,151.57 204.6,151.6 205,151.71 205.4,153.32 205.8,151.82 206.2,153.3 206.6,154.74 207,153.88 207.4,154.11 207.8,154.91 208.2,154.85 208.6,156.73 209,155.16 209.4,156.86 209.8,155.54 210.2,157.33 210.6,157.03 211,155.41 211.4,157.68 211.8,157.12 212.2,157.84 212.6,159.59 213,157.73 213.4,157.95 213.8,160.02 214.2,159.13 214.6,160.36 215,159.54 215.4,158.73 215.8,159.46 216.2,160.56 216.6,160.44 217,159.8 217.4,159.93 217.8,159.88 218.2,159.6 218.6,161.61 219,160.2 219.4,159.39 219.8,159.97 220.2,160.95 220.6,160.95 221,160.4 221.4,160.04 221.8,160.62 222.2,159.35 222.6,159.69 223,161.35 223.4,160.41 223.8,161.12 224.2,161.82 224.6,161.44 225,161.02 225.4,162.71 225.8,161.65 226.2,160.94 226.6,161.86 227,161.7 227.4,160.81 227.8,161.62 228.2,161.52 228.6,160.23 229,161.71 229.4,161.72 229.8,161.7 230.2,160.86 230.6,161.95 231,162.29 231.4,162.49 231.8,161.63 232.2,163.08 232.6,161.74 233,162.59 233.4,163.85 233.8,162.39 234.2,162.62 234.6,163.92 235,162.88 235.4,163.02 235.8,163.5 236.2,164.22 236.6,161.79 237,162.93 237.4,162.87 237.8,162.89 238.2,163.14 238.6,163.23 239,164.18 239.4,163.34 239.8,164.19 240.2,164.47 240.6,163.67 241,164.4 241.4,165.63 241.8,164.69 242.2,164.02 242.6,164.53 243,163.94 243.4,164.92 243.8,165.44 244.2,164.21 244.6,164.74 245,165.82 245.4,164.64 245.8,165.23 246.2,164.36 246.6,164.57 247,164.86 247.4,166.94 247.8,165.06 248.2,165.02 248.6,165.04 249,165.39 249.4,166.05 249.8,165.75 250.2,167.2 250.6,165.87 251,166.84 251.4,166.01 251.8,166.3 252.2,164.81 252.6,165.84 253,165.92 253.4,165.83 253.8,164.44 254.2,166.75 254.6,165.83 255,165.82 255.4,165.98 255.8,166.03 256.2,166.53 256.6,165.29 257,165.56 257.4,166.5 257.8,166.41 258.2,166.04 258.6,165.9 259,165.72 259.4,166.32 259.8,167.27 260.2,165.6 260.6,167.55 261,167.05 261.4,166.09 261.8,167.03 262.2,165.36 262.6,165.17 263,165.52 263.4,166.19 263.8,166.27 264.2,166.14 264.6,166.61 265,164.95 265.4,166.94 265.8,165.51 266.2,166.1 266.6,166.3 267,165.75 267.4,165.6 267.8,165.89 268.2,166.65 268.6,167.11 269,167.1 269.4,165.94 269.8,166.1 270.2,166 270.6,167.04 271,165.17 271.4,167.63 271.8,166.33 272.2,166.1 272.6,166.94 273,167.45 273.4,166.92 273.8,167.44 274.2,166.74 274.6,167.54 275,167.54 275.4,166.51 275.8,167.64 276.2,166.67 276.6,166.59 277,165.81 277.4,166.25 277.8,167.01 278.2,165.4 278.6,166.81 279,166.52 279.4,166.4 279.8,164.47 280.2,165.98 280.6,166.47 281,165.36 281.4,165.95 281.8,164.06 282.2,166.32 282.6,165.3 283,166.46 283.4,164.44 283.8,166.38 284.2,165.73 284.6,166.57 285,165.34 285.4,165.65 285.8,167.89 286.2,165.68 286.6,165.87 287,166.29 287.4,165.83 287.8,167.6 288.2,168.1 288.6,166.38 289,165.71 289.4,167.98 289.8,168.02 290.2,167.88 290.6,168.2 291,166.76 291.4,167.35 291.8,166.52 292.2,166.57 292.6,168.44 293,167.28 293.4,169.56 293.8,167.98 294.2,167.52 294.6,168.67 295,169.48 295.4,168.56 295.8,167.34 296.2,168.59 296.6,169.39 297,168.04 297.4,167.87 297.8,169.24 298.2,168.61 298.6,167.7 299,168.27 299.4,168.01 299.8,168.82 300.2,168.71 300.6,169.51 301,169.2 301.4,167.51 301.8,169.01 302.2,169.39 302.6,169.08 303,169.52 303.4,168.35 303.8,168.06 304.2,169.48 304.6,167.99 305,167.18 305.4,169.57 305.8,168.26 306.2,168.57 306.6,167.73 307,167.77 307.4,167.87 307.8,168.44 308.2,168.95 308.6,166.92 309,169.17 309.4,167.69 309.8,167.75 310.2,169.04 310.6,168.45 311,167.35 311.4,169.88 311.8,167.86 312.2,168.71 312.6,168.69 313,169.63 313.4,168.26 313.8,169.4 314.2,168.13 314.6,169.58 315,168.22 315.4,168.58 315.8,170.34 316.2,169.23 316.6,169.14 317,170.82" fill="none" stroke="#1a1a1a" stroke-width="1.3" stroke-linejoin="round"/>
<polyline points="75,168.3 76,168.36 77,168.42 78,168.47 79,168.52 80,168.56 81,168.58 82,168.6 83,168.6 84,168.6 85,168.59 86,168.58 87,168.56 88,168.55 89,168.53 90,168.51 91,168.48 92,168.45 93,168.39 94,168.33 95,168.26 96,168.18 97,168.1 98,168.01 99,167.91 100,167.79 101,167.66 102,167.51 103,167.35 104,167.19 105,167.03 106,166.87 107,166.7 108,166.53 109,166.36 110,166.17 111,165.99 112,165.79 113,165.6 114,165.4 115,165.19 116,164.97 117,164.74 118,164.52 119,164.29 120,164.06 121,163.84 122,163.63 123,163.43 124,163.22 125,163 126,162.77 127,162.52 128,162.27 129,162.02 130,161.75 131,161.48 132,161.2 133,160.91 134,160.64 135,160.37 136,160.09 137,159.8 138,159.47 139,159.11 140,158.69 141,158.15 142,157.36 143,156.49 144,155.72 145,155.11 146,154.48 147,153.9 148,153.43 149,153.15 150,153.1 151,153.12 152,153.17 153,153.23 154,153.32 155,153.41 156,153.53 157,153.86 158,154.36 159,154.86 160,155.17 161,155.2 162,155.17 163,155.12 164,155.06 165,155 166,154.93 167,154.84 168,154.74 169,154.61 170,154.44 171,154.24 172,153.92 173,153.33 174,152.59 175,151.8 176,150.95 177,149.98 178,148.91 179,147.76 180,146.44 181,145 182,143.55 183,142.21 184,140.86 185,139.56 186,138.44 187,137.59 188,136.79 189,136.12 190,135.74 191,135.74 192,135.96 193,136.3 194,136.76 195,137.59 196,138.7 197,139.93 198,141.25 199,142.85 200,144.56 201,146.2 202,147.69 203,149.15 204,150.54 205,151.8 206,152.95 207,154.03 208,155.01 209,155.86 210,156.66 211,157.41 212,158.06 213,158.59 214,158.98 215,159.29 216,159.57 217,159.8 218,160.01 219,160.2 220,160.36 221,160.5 222,160.62 223,160.73 224,160.86 225,161 226,161.18 227,161.38 228,161.61 229,161.84 230,162.08 231,162.32 232,162.55 233,162.76 234,162.97 235,163.17 236,163.37 237,163.57 238,163.76 239,163.95 240,164.13 241,164.3 242,164.47 243,164.64 244,164.81 245,164.96 246,165.11 247,165.26 248,165.39 249,165.51 250,165.64 251,165.76 252,165.87 253,165.98 254,166.07 255,166.15 256,166.21 257,166.26 258,166.31 259,166.35 260,166.39 261,166.42 262,166.45 263,166.48 264,166.52 265,166.55 266,166.59 267,166.62 268,166.65 269,166.67 270,166.69 271,166.7 272,166.69 273,166.67 274,166.64 275,166.6 276,166.55 277,166.5 278,166.41 279,166.26 280,166.09 281,165.93 282,165.83 283,165.8 284,165.88 285,166.04 286,166.25 287,166.5 288,166.76 289,167.01 290,167.23 291,167.41 292,167.59 293,167.78 294,167.96 295,168.13 296,168.28 297,168.41 298,168.49 299,168.56 300,168.61 301,168.67 302,168.71 303,168.75 304,168.78 305,168.8 306,168.8 307,168.76 308,168.69 309,168.61 310,168.54 311,168.5 312,168.51 313,168.57 314,168.66 315,168.79 316,168.95 317,169.14" fill="none" stroke="#cc4438" stroke-width="1.05" stroke-linejoin="round"/>
<text transform="translate(49,50.4) scale(1,1)" font-size="12" fill="#111">1% H<tspan font-size="6.6" dy="3.84">2</tspan><tspan dy="-3.84">SO</tspan><tspan font-size="6.6" dy="3.84">4</tspan><tspan dy="-3.84"></tspan></text>
<text transform="translate(73,66.5) scale(1,1)" font-size="12" text-anchor="middle" fill="#111">+</text>
<text transform="translate(44,79.2) scale(1,1)" font-size="12" fill="#111">NaOH 4.0%</text>
<text transform="translate(44,124.8) scale(1,1)" font-size="12" fill="#111">1% H<tspan font-size="6.6" dy="3.84">2</tspan><tspan dy="-3.84">SO</tspan><tspan font-size="6.6" dy="3.84">4</tspan><tspan dy="-3.84"></tspan></text>
<text transform="translate(43.6,165) scale(1,1)" font-size="12" fill="#111">Untreated</text>
<text class="pk" transform="translate(122.5,82) rotate(-90) scale(1,1)" font-size="14.72" fill="#111">(101)</text>
<text class="pk" transform="translate(154.5,67.4) rotate(-90) scale(1,1)" font-size="14.72" fill="#111">(101)</text>
<line x1="142.2" y1="40.6" x2="142.2" y2="46.2" stroke="#111" stroke-width="1.3"/>
<text class="pk" transform="translate(178,67.8) rotate(-90) scale(1.1,1)" font-size="13.3" fill="#111">amorphous</text>
<text class="pk" transform="translate(201.3,48) rotate(-90) scale(1,1)" font-size="14.72" fill="#111">(002)</text>
<text class="pk" transform="translate(285.3,80.6) rotate(-90) scale(1,1)" font-size="14.72" fill="#111">(040)</text>
<polyline points="180.6,3 180.6,66.5 189.2,72" fill="none" stroke="#111" stroke-width="1.3"/>
<polyline points="431.8,86.97 432.2,86.76 432.6,87.1 433,86.74 433.4,87.23 433.8,87.27 434.2,86.93 434.6,86.95 435,87.13 435.4,87.12 435.8,86.94 436.2,87.27 436.6,86.77 437,87.11 437.4,87.13 437.8,87.18 438.2,87.31 438.6,87.02 439,87.4 439.4,87.26 439.8,87.18 440.2,87.05 440.6,87.1 441,87.43 441.4,87.18 441.8,87.39 442.2,87.61 442.6,87.62 443,87.73 443.4,87.38 443.8,87.23 444.2,87.66 444.6,87.53 445,87.7 445.4,87.49 445.8,87.73 446.2,87.66 446.6,87.64 447,87.6 447.4,87.58 447.8,87.54 448.2,87.54 448.6,87.69 449,87.38 449.4,87.82 449.8,87.45 450.2,87.65 450.6,87.43 451,87.39 451.4,87.83 451.8,87.35 452.2,87.14 452.6,87.24 453,87.3 453.4,87.78 453.8,87.38 454.2,87.51 454.6,87.11 455,87.37 455.4,87.42 455.8,87.63 456.2,87.11 456.6,87.36 457,87.28 457.4,87 457.8,87.19 458.2,87.12 458.6,86.69 459,87.25 459.4,87.22 459.8,87 460.2,86.8 460.6,87.34 461,87.07 461.4,87.19 461.8,87.24 462.2,86.83 462.6,87.06 463,86.81 463.4,86.81 463.8,86.75 464.2,86.71 464.6,86.87 465,86.6 465.4,86.47 465.8,86.36 466.2,86.4 466.6,86.07 467,86.06 467.4,86.06 467.8,85.86 468.2,85.86 468.6,85.67 469,86.1 469.4,85.87 469.8,85.6 470.2,85.41 470.6,85.77 471,85.31 471.4,85.13 471.8,85.11 472.2,85.02 472.6,85.14 473,84.75 473.4,85.07 473.8,84.37 474.2,84.58 474.6,84.14 475,84.6 475.4,84.07 475.8,84.02 476.2,84.12 476.6,84.08 477,83.51 477.4,83.57 477.8,83.27 478.2,83.48 478.6,83.35 479,83.22 479.4,83.07 479.8,83.06 480.2,82.91 480.6,83.09 481,83.22 481.4,82.46 481.8,82.75 482.2,82.62 482.6,82.72 483,82.36 483.4,82.44 483.8,82.17 484.2,82.43 484.6,82.21 485,82.06 485.4,82.06 485.8,81.82 486.2,81.44 486.6,81.73 487,81.53 487.4,81.29 487.8,81.35 488.2,81.23 488.6,80.59 489,80.46 489.4,80.73 489.8,80.51 490.2,79.86 490.6,79.56 491,79.44 491.4,79.24 491.8,78.79 492.2,78.87 492.6,78.36 493,78.12 493.4,78.28 493.8,77.68 494.2,77.48 494.6,77.27 495,76.93 495.4,76.3 495.8,75.97 496.2,75.38 496.6,75.47 497,74.84 497.4,74.09 497.8,73.93 498.2,73.72 498.6,73.35 499,73.32 499.4,72.93 499.8,72.25 500.2,72.05 500.6,71.53 501,71.58 501.4,71.32 501.8,71.63 502.2,70.94 502.6,70.38 503,70.57 503.4,70.63 503.8,70.27 504.2,70.27 504.6,70.3 505,70.38 505.4,70.23 505.8,70.05 506.2,70.36 506.6,70.09 507,70.13 507.4,70.01 507.8,70.21 508.2,70.6 508.6,70.27 509,70.71 509.4,71.02 509.8,70.94 510.2,71.21 510.6,71.09 511,71.75 511.4,71.91 511.8,71.95 512.2,71.78 512.6,72.16 513,72.82 513.4,73.22 513.8,73.19 514.2,73.63 514.6,73.5 515,73.82 515.4,74.1 515.8,74.42 516.2,74.28 516.6,75.03 517,75.35 517.4,75.11 517.8,75.31 518.2,75.89 518.6,75.91 519,75.78 519.4,76.61 519.8,76.67 520.2,76.75 520.6,77.47 521,77.28 521.4,77.31 521.8,77.67 522.2,77.62 522.6,77.83 523,78.19 523.4,78.1 523.8,78.19 524.2,78.63 524.6,78.47 525,78.45 525.4,78.39 525.8,78.36 526.2,78.54 526.6,78.23 527,78.58 527.4,77.99 527.8,78.07 528.2,77.75 528.6,77.83 529,77.85 529.4,77.86 529.8,77.24 530.2,77.16 530.6,76.86 531,76.56 531.4,76.24 531.8,76.25 532.2,75.67 532.6,75.82 533,75.59 533.4,75.24 533.8,74.94 534.2,74.64 534.6,75.06 535,74.17 535.4,74.5 535.8,74.05 536.2,73.58 536.6,73.14 537,73.29 537.4,73.13 537.8,72.28 538.2,72.07 538.6,71.99 539,71.48 539.4,71.43 539.8,70.51 540.2,70.31 540.6,69.52 541,69.73 541.4,68.69 541.8,67.9 542.2,67.8 542.6,67.28 543,67.14 543.4,66.13 543.8,65.6 544.2,65.06 544.6,64.54 545,63.47 545.4,62.91 545.8,62.02 546.2,61.06 546.6,60.35 547,59.58 547.4,58.65 547.8,58.32 548.2,57.05 548.6,56.81 549,56.01 549.4,55.06 549.8,54.21 550.2,53.62 550.6,53.05 551,52.3 551.4,51.38 551.8,50.75 552.2,49.8 552.6,49.51 553,48.99 553.4,49.56 553.8,49.73 554.2,50.05 554.6,50.9 555,51.39 555.4,51.3 555.8,52.45 556.2,52.78 556.6,53.97 557,55.01 557.4,55.22 557.8,56.19 558.2,57.03 558.6,58.09 559,59.14 559.4,60.42 559.8,61.22 560.2,63.03 560.6,63.8 561,65.19 561.4,66.4 561.8,67.33 562.2,67.99 562.6,68.98 563,69.93 563.4,70.85 563.8,71.85 564.2,72.04 564.6,73.01 565,73.62 565.4,74.17 565.8,74.68 566.2,75.4 566.6,75.67 567,76.19 567.4,76.55 567.8,77.19 568.2,76.82 568.6,77.8 569,77.8 569.4,78.1 569.8,78.25 570.2,78.34 570.6,78.91 571,79.1 571.4,79.57 571.8,79.41 572.2,80.2 572.6,80.17 573,80.26 573.4,80.34 573.8,80.49 574.2,80.57 574.6,80.83 575,81.07 575.4,81.17 575.8,81.04 576.2,81.38 576.6,81.37 577,81.68 577.4,82.13 577.8,81.97 578.2,81.88 578.6,81.7 579,81.83 579.4,81.85 579.8,82.41 580.2,82.18 580.6,82.42 581,82.35 581.4,82.56 581.8,82.88 582.2,82.52 582.6,82.65 583,82.61 583.4,83 583.8,82.67 584.2,82.7 584.6,82.7 585,82.74 585.4,83.16 585.8,83.62 586.2,82.96 586.6,83.39 587,83.29 587.4,83.06 587.8,83.26 588.2,83.3 588.6,83.25 589,83.81 589.4,83.08 589.8,83.57 590.2,83.59 590.6,83.44 591,83.62 591.4,83.8 591.8,83.69 592.2,83.78 592.6,83.87 593,83.36 593.4,84.1 593.8,84.29 594.2,84.07 594.6,84.11 595,83.67 595.4,83.96 595.8,83.86 596.2,83.95 596.6,84.3 597,83.98 597.4,84.15 597.8,83.83 598.2,84.22 598.6,84.31 599,84.18 599.4,84.22 599.8,84.77 600.2,84.19 600.6,84.25 601,84.33 601.4,84.76 601.8,84.97 602.2,84.65 602.6,84.47 603,84.55 603.4,84.88 603.8,84.51 604.2,85.01 604.6,85.03 605,84.78 605.4,84.93 605.8,84.97 606.2,85.16 606.6,84.66 607,85.13 607.4,84.84 607.8,84.79 608.2,84.99 608.6,84.95 609,84.81 609.4,84.72 609.8,84.87 610.2,85.38 610.6,85.51 611,85.27 611.4,85.41 611.8,85.1 612.2,85.21 612.6,85.31 613,85.06 613.4,85.1 613.8,85.34 614.2,85.28 614.6,85.15 615,85.45 615.4,85.33 615.8,85.6 616.2,85.4 616.6,85.34 617,85.42 617.4,85.35 617.8,85.24 618.2,85.27 618.6,85.48 619,85.43 619.4,85.53 619.8,84.9 620.2,85.12 620.6,85.08 621,85.16 621.4,84.99 621.8,84.94 622.2,85.16 622.6,84.99 623,84.68 623.4,85.14 623.8,85.04 624.2,84.69 624.6,84.93 625,84.58 625.4,84.91 625.8,84.61 626.2,84.45 626.6,84.49 627,84.37 627.4,84.52 627.8,84.46 628.2,84.38 628.6,84.2 629,83.51 629.4,84.19 629.8,83.71 630.2,84.06 630.6,84.15 631,83.9 631.4,83.68 631.8,83.63 632.2,83.56 632.6,83.39 633,83.29 633.4,83.12 633.8,83.43 634.2,83.08 634.6,83.16 635,82.8 635.4,82.77 635.8,82.63 636.2,82.68 636.6,82.7 637,82.55 637.4,82.37 637.8,82.37 638.2,82.9 638.6,82.57 639,82.64 639.4,83.08 639.8,83.1 640.2,83.09 640.6,83.01 641,83.68 641.4,83.4 641.8,83.54 642.2,83.5 642.6,83.35 643,83.45 643.4,83.88 643.8,83.95 644.2,83.9 644.6,83.79 645,83.81 645.4,84.1 645.8,83.95 646.2,84.49 646.6,84.62 647,85.02 647.4,84.7 647.8,84.47 648.2,84.48 648.6,84.02 649,84.65 649.4,84.79 649.8,85.07 650.2,85.04 650.6,85.07 651,85.03 651.4,85.15 651.8,85.34 652.2,84.87 652.6,85.01 653,84.85 653.4,85.47 653.8,85.43 654.2,85.34 654.6,84.97 655,85.26 655.4,85.2 655.8,85.28 656.2,85.24 656.6,85.4 657,85.24 657.4,85.5 657.8,85.4 658.2,85.31 658.6,85.37 659,85.32 659.4,85.59 659.8,85.4 660.2,85.54 660.6,85.42 661,85.23 661.4,85.73 661.8,85.36 662.2,85.73 662.6,85.7 663,85.31 663.4,85.47 663.8,85.58 664.2,85.54 664.6,85.48 665,85.89 665.4,85.71 665.8,85.85 666.2,85.7 666.6,85.86 667,85.67 667.4,85.83 667.8,85.96 668.2,85.87 668.6,85.78 669,85.66 669.4,85.93 669.8,85.97 670.2,85.87 670.6,85.77 671,86.05 671.4,86.44 671.8,85.9 672.2,86.03 672.6,86.05 673,85.47 673.4,86.01 673.8,85.85 674.2,86.28" fill="none" stroke="#1a1a1a" stroke-width="1.2" stroke-linejoin="round"/>
<polyline points="430.7,131.13 431.1,131.05 431.5,131.27 431.9,131.44 432.3,131.3 432.7,131.5 433.1,131.2 433.5,131.57 433.9,131.9 434.3,132.29 434.7,131.98 435.1,131.9 435.5,132.2 435.9,132.2 436.3,132.41 436.7,132.28 437.1,131.97 437.5,132.11 437.9,132.11 438.3,132.17 438.7,132.17 439.1,131.92 439.5,131.58 439.9,132 440.3,131.64 440.7,132.25 441.1,132.25 441.5,131.79 441.9,132.47 442.3,132.53 442.7,132.32 443.1,132.77 443.5,132.82 443.9,131.95 444.3,132.56 444.7,132.37 445.1,132.33 445.5,132.43 445.9,131.92 446.3,131.9 446.7,131.78 447.1,131.74 447.5,131.86 447.9,131.41 448.3,131.46 448.7,131.85 449.1,131.61 449.5,131.68 449.9,130.98 450.3,131.24 450.7,131.25 451.1,131.36 451.5,131.13 451.9,131.5 452.3,131.17 452.7,131.13 453.1,131.07 453.5,131.21 453.9,130.82 454.3,131.21 454.7,130.97 455.1,130.83 455.5,130.74 455.9,130.83 456.3,130.91 456.7,130.84 457.1,130.63 457.5,130.72 457.9,130.46 458.3,130.72 458.7,130.31 459.1,129.67 459.5,130.56 459.9,130.15 460.3,129.71 460.7,129.9 461.1,129.62 461.5,130.36 461.9,129.8 462.3,129.12 462.7,129.59 463.1,129.21 463.5,129.73 463.9,128.78 464.3,128.31 464.7,128.83 465.1,128.58 465.5,128.42 465.9,127.8 466.3,128.39 466.7,128.6 467.1,127.46 467.5,128.19 467.9,127.57 468.3,128.26 468.7,127.59 469.1,127.28 469.5,127.5 469.9,127.19 470.3,126.74 470.7,126.96 471.1,126.47 471.5,125.97 471.9,126.89 472.3,126.08 472.7,125.87 473.1,126 473.5,125.33 473.9,125.25 474.3,125.36 474.7,125.23 475.1,125.26 475.5,125.42 475.9,124.84 476.3,124.98 476.7,124.88 477.1,124.28 477.5,124.53 477.9,124.08 478.3,124.53 478.7,124.25 479.1,124.02 479.5,123.54 479.9,123.85 480.3,123.52 480.7,123.86 481.1,123.55 481.5,123.29 481.9,123.7 482.3,123.58 482.7,123.15 483.1,123.58 483.5,123.11 483.9,123.05 484.3,123.1 484.7,122.79 485.1,122.81 485.5,122.82 485.9,123.23 486.3,123.15 486.7,122.6 487.1,123.05 487.5,122.51 487.9,122.55 488.3,122.6 488.7,122.33 489.1,122.79 489.5,122.02 489.9,121.44 490.3,121.95 490.7,121.25 491.1,121.06 491.5,120.07 491.9,120.94 492.3,120.64 492.7,120.38 493.1,120.17 493.5,120.12 493.9,119.38 494.3,119.41 494.7,118.7 495.1,118.59 495.5,118.76 495.9,118.34 496.3,117.63 496.7,117.87 497.1,117.48 497.5,117.07 497.9,117.19 498.3,116.72 498.7,116.17 499.1,116.07 499.5,116.66 499.9,115.53 500.3,115.8 500.7,115.66 501.1,115.41 501.5,114.63 501.9,114.65 502.3,114.58 502.7,114.62 503.1,114.13 503.5,113.98 503.9,114.62 504.3,114.72 504.7,114.61 505.1,114.44 505.5,114.84 505.9,114.87 506.3,115.19 506.7,114.7 507.1,115.17 507.5,115.19 507.9,115.02 508.3,115.49 508.7,115.54 509.1,115.52 509.5,115.86 509.9,115.47 510.3,115.98 510.7,116.26 511.1,116.38 511.5,116.77 511.9,116.31 512.3,116.42 512.7,117.1 513.1,117.36 513.5,118.03 513.9,117.81 514.3,117.59 514.7,118.26 515.1,117.98 515.5,117.99 515.9,119.31 516.3,118.83 516.7,119.09 517.1,119.19 517.5,119.65 517.9,119.33 518.3,119.69 518.7,119.17 519.1,119.17 519.5,120.05 519.9,120.16 520.3,119.97 520.7,119.96 521.1,119.99 521.5,119.79 521.9,120.43 522.3,120.18 522.7,120.14 523.1,120.11 523.5,120.29 523.9,120.14 524.3,120.21 524.7,119.67 525.1,120.14 525.5,120.61 525.9,119.85 526.3,119.96 526.7,120.17 527.1,120.02 527.5,119.69 527.9,118.77 528.3,119.04 528.7,118.23 529.1,118 529.5,118.08 529.9,117.57 530.3,117.67 530.7,118.13 531.1,117.28 531.5,117.09 531.9,116.47 532.3,116.36 532.7,116.05 533.1,115.99 533.5,115.59 533.9,115.44 534.3,115.27 534.7,114.72 535.1,114.23 535.5,113.84 535.9,113.9 536.3,113.29 536.7,113.01 537.1,112.41 537.5,111.36 537.9,110.84 538.3,109 538.7,108.62 539.1,107.07 539.5,105.8 539.9,104.75 540.3,104.47 540.7,103.17 541.1,102.86 541.5,102.7 541.9,101.95 542.3,101.25 542.7,101.11 543.1,100.01 543.5,99.83 543.9,99.08 544.3,98.47 544.7,98.33 545.1,97.44 545.5,97.79 545.9,96.65 546.3,96.95 546.7,95.64 547.1,95.64 547.5,94.68 547.9,94.25 548.3,94.39 548.7,94.4 549.1,93.88 549.5,94.71 549.9,94.4 550.3,94.97 550.7,95.41 551.1,95.86 551.5,95.6 551.9,97.03 552.3,97.33 552.7,97.76 553.1,98.37 553.5,99.01 553.9,99.95 554.3,101.33 554.7,101.91 555.1,102.54 555.5,103.61 555.9,105.12 556.3,105.53 556.7,106.4 557.1,107.86 557.5,108.5 557.9,109.24 558.3,109.91 558.7,110.49 559.1,111.44 559.5,112.45 559.9,113.3 560.3,114.19 560.7,114.9 561.1,115.41 561.5,115.99 561.9,116.21 562.3,116.43 562.7,117.39 563.1,117.75 563.5,118.28 563.9,118.8 564.3,118.9 564.7,119.27 565.1,119.86 565.5,120.2 565.9,120.26 566.3,120.84 566.7,120.88 567.1,120.88 567.5,121.4 567.9,122.13 568.3,121.61 568.7,122.32 569.1,122.57 569.5,122.79 569.9,122.32 570.3,123.3 570.7,122.94 571.1,123.02 571.5,123.19 571.9,123.59 572.3,123.6 572.7,123.69 573.1,124.26 573.5,123.84 573.9,123.9 574.3,124.55 574.7,124.65 575.1,124.89 575.5,124.4 575.9,125.12 576.3,125.06 576.7,125.52 577.1,124.78 577.5,125.28 577.9,125.24 578.3,124.96 578.7,125.29 579.1,125.89 579.5,125.52 579.9,125.53 580.3,126.05 580.7,126.15 581.1,126.22 581.5,125.79 581.9,126.07 582.3,126.44 582.7,126.03 583.1,126.07 583.5,126.57 583.9,126.84 584.3,126.13 584.7,125.79 585.1,126.16 585.5,126.34 585.9,126.64 586.3,126.9 586.7,126.74 587.1,126.63 587.5,126.92 587.9,126.65 588.3,126.96 588.7,126.84 589.1,127.81 589.5,127.33 589.9,126.91 590.3,126.91 590.7,127.11 591.1,126.81 591.5,127.11 591.9,127.14 592.3,127.64 592.7,127.31 593.1,127.25 593.5,127.13 593.9,127.22 594.3,127.57 594.7,127.57 595.1,127.99 595.5,127.53 595.9,128.05 596.3,127.87 596.7,127.84 597.1,127.32 597.5,127.56 597.9,128.17 598.3,128.4 598.7,128.11 599.1,128.3 599.5,128.02 599.9,128.07 600.3,128.03 600.7,128.53 601.1,128.4 601.5,128.28 601.9,128.29 602.3,128.58 602.7,128.55 603.1,128.27 603.5,129.02 603.9,128.65 604.3,128.62 604.7,129.06 605.1,128.97 605.5,128.7 605.9,128.91 606.3,128.49 606.7,128.65 607.1,128.23 607.5,129.24 607.9,128.4 608.3,129.16 608.7,128.77 609.1,128.77 609.5,129.02 609.9,129.19 610.3,129.32 610.7,129.69 611.1,129.33 611.5,129.52 611.9,129.16 612.3,129.57 612.7,129.47 613.1,129.35 613.5,129.51 613.9,129.57 614.3,129.7 614.7,129.81 615.1,129.61 615.5,129.59 615.9,130.05 616.3,129.41 616.7,129.75 617.1,130.39 617.5,129.22 617.9,129.8 618.3,130.19 618.7,129.54 619.1,130.72 619.5,129.26 619.9,130.37 620.3,130.39 620.7,130.18 621.1,129.84 621.5,129.97 621.9,129.59 622.3,130.04 622.7,129.46 623.1,129.66 623.5,129.98 623.9,129.35 624.3,129.53 624.7,129.64 625.1,129.17 625.5,129.83 625.9,129.55 626.3,128.97 626.7,129.32 627.1,129.05 627.5,129.02 627.9,129.16 628.3,128.88 628.7,129.28 629.1,128.74 629.5,129.15 629.9,128.8 630.3,128.99 630.7,128.53 631.1,128.46 631.5,128.2 631.9,128.6 632.3,128.63 632.7,128.88 633.1,128.59 633.5,128.24 633.9,128.07 634.3,128.21 634.7,128.09 635.1,128.53 635.5,128.42 635.9,127.97 636.3,128.08 636.7,128.73 637.1,128.53 637.5,128.48 637.9,128.98 638.3,128.66 638.7,128.8 639.1,128.87 639.5,128.56 639.9,129.47 640.3,128.99 640.7,129.27 641.1,129.31 641.5,129.8 641.9,129.65 642.3,129.75 642.7,129.35 643.1,129.87 643.5,129.55 643.9,130.12 644.3,130.21 644.7,130.17 645.1,130.82 645.5,130.46 645.9,130.55 646.3,130.48 646.7,130.45 647.1,130.83 647.5,130.92 647.9,130.3 648.3,131 648.7,130.9 649.1,131.06 649.5,130.96 649.9,130.51 650.3,130.57 650.7,131.44 651.1,131.04 651.5,130.61 651.9,131.14 652.3,130.97 652.7,130.59 653.1,130.5 653.5,130.72 653.9,131.28 654.3,131.22 654.7,131.19 655.1,131.37 655.5,131.48 655.9,130.75 656.3,131.28 656.7,131.15 657.1,131.06 657.5,131.27 657.9,131.4 658.3,131.38 658.7,131.06 659.1,131.34 659.5,132.05 659.9,131.2 660.3,131.03 660.7,131.58 661.1,131.67 661.5,131.63 661.9,131.19 662.3,131.78 662.7,131.28 663.1,131.18 663.5,131.33 663.9,131.47 664.3,131.7 664.7,131.67 665.1,131.49 665.5,131.76 665.9,131.52 666.3,131.75 666.7,131.11 667.1,131.06 667.5,131.72 667.9,131.11 668.3,131.42 668.7,131.47 669.1,131.36 669.5,131.37 669.9,131.89 670.3,130.79 670.7,131.75 671.1,132.14 671.5,131.51 671.9,131.49" fill="none" stroke="#444" stroke-width="0.95" stroke-linejoin="round"/>
<polyline points="430.3,167.23 430.7,168.35 431.1,165.36 431.5,166.67 431.9,166.42 432.3,167.19 432.7,166.82 433.1,167.35 433.5,166.3 433.9,166.8 434.3,166.11 434.7,166.15 435.1,166.71 435.5,166.74 435.9,165.75 436.3,168.53 436.7,166.87 437.1,165.67 437.5,168.2 437.9,166.41 438.3,167.72 438.7,167.25 439.1,167.57 439.5,167.55 439.9,166.85 440.3,167.52 440.7,169.56 441.1,165.33 441.5,167.67 441.9,168.08 442.3,166.61 442.7,166.32 443.1,169.86 443.5,167.33 443.9,169.78 444.3,168.24 444.7,167.78 445.1,168.18 445.5,168.34 445.9,168.88 446.3,168.14 446.7,167.84 447.1,167.88 447.5,169.05 447.9,168.52 448.3,166.7 448.7,167.06 449.1,168.03 449.5,167.08 449.9,167.32 450.3,166.74 450.7,167.44 451.1,168.12 451.5,168.68 451.9,167.67 452.3,169.68 452.7,167.47 453.1,170.66 453.5,168.38 453.9,167.78 454.3,166.68 454.7,164.25 455.1,166.81 455.5,167.04 455.9,168.69 456.3,165.29 456.7,168.49 457.1,166.26 457.5,167.18 457.9,163.86 458.3,166.48 458.7,165.94 459.1,166.92 459.5,166.28 459.9,165 460.3,167.04 460.7,166.74 461.1,166.59 461.5,166.95 461.9,167 462.3,165.82 462.7,164.43 463.1,164.34 463.5,167.02 463.9,166.32 464.3,165.65 464.7,165.05 465.1,165.46 465.5,165.39 465.9,164.96 466.3,164.53 466.7,167.33 467.1,165.33 467.5,164.43 467.9,163.67 468.3,164.18 468.7,165.57 469.1,165.54 469.5,164.5 469.9,164.71 470.3,164.29 470.7,163.43 471.1,165.79 471.5,164.81 471.9,166.86 472.3,163.57 472.7,164.14 473.1,165.11 473.5,163.94 473.9,162.75 474.3,163.13 474.7,164.13 475.1,164.32 475.5,163.83 475.9,164.87 476.3,164.8 476.7,164.06 477.1,163.7 477.5,163.34 477.9,164.07 478.3,164.36 478.7,163.4 479.1,163.69 479.5,162.81 479.9,161.6 480.3,161.89 480.7,163.53 481.1,163.07 481.5,164.07 481.9,162.39 482.3,163.05 482.7,163.35 483.1,162.86 483.5,161.1 483.9,161.36 484.3,161.51 484.7,160.23 485.1,161.52 485.5,161.91 485.9,160.24 486.3,162.52 486.7,160.07 487.1,159.97 487.5,159.75 487.9,159.08 488.3,160 488.7,159.4 489.1,160.83 489.5,159.57 489.9,159.29 490.3,158.31 490.7,156.91 491.1,158.02 491.5,157.04 491.9,158.63 492.3,157.44 492.7,158.92 493.1,157.79 493.5,157.69 493.9,156.88 494.3,156.65 494.7,156.89 495.1,156.95 495.5,155.11 495.9,156.11 496.3,158.03 496.7,155.12 497.1,154.75 497.5,154.12 497.9,153.17 498.3,155.62 498.7,154.31 499.1,154.36 499.5,155.72 499.9,156.2 500.3,152.62 500.7,154.38 501.1,153.77 501.5,153.38 501.9,153.29 502.3,152.64 502.7,154.11 503.1,153 503.5,152.62 503.9,153.41 504.3,152.94 504.7,152.39 505.1,152.15 505.5,153.48 505.9,152.15 506.3,151.48 506.7,150.67 507.1,151.16 507.5,150.46 507.9,151.64 508.3,151.83 508.7,149.57 509.1,151.71 509.5,152.41 509.9,152.01 510.3,150.98 510.7,153.3 511.1,151.43 511.5,151 511.9,151.25 512.3,152.44 512.7,153.61 513.1,153.99 513.5,153.25 513.9,152.06 514.3,152.82 514.7,152.78 515.1,153.69 515.5,152.25 515.9,154.24 516.3,154.84 516.7,154.05 517.1,154.63 517.5,153.19 517.9,152.61 518.3,153.36 518.7,155.07 519.1,154.86 519.5,153.29 519.9,154.87 520.3,153.27 520.7,155.05 521.1,153.98 521.5,153.02 521.9,154.25 522.3,152.66 522.7,152.49 523.1,151.96 523.5,153.65 523.9,153.32 524.3,153.28 524.7,152.92 525.1,154.73 525.5,152.76 525.9,152.3 526.3,154.05 526.7,153.98 527.1,152.65 527.5,150.32 527.9,151.25 528.3,152.28 528.7,151.53 529.1,152.92 529.5,149.86 529.9,151.78 530.3,150.34 530.7,152.15 531.1,150.6 531.5,151.53 531.9,149.66 532.3,148.68 532.7,148.72 533.1,148.86 533.5,147.98 533.9,149.66 534.3,149.19 534.7,147.49 535.1,145.56 535.5,145.87 535.9,144.73 536.3,146.31 536.7,144.59 537.1,144.18 537.5,142.7 537.9,140.51 538.3,141.17 538.7,140.26 539.1,141.2 539.5,140.4 539.9,138.97 540.3,138.85 540.7,140.28 541.1,137.22 541.5,136.75 541.9,136.95 542.3,136.02 542.7,135.88 543.1,136.47 543.5,137.36 543.9,133.54 544.3,135 544.7,134.77 545.1,134.41 545.5,134.13 545.9,133.87 546.3,135.21 546.7,133.81 547.1,134.26 547.5,134.55 547.9,134.85 548.3,134.8 548.7,136.21 549.1,135.45 549.5,135.87 549.9,135.91 550.3,135.26 550.7,135.78 551.1,135.93 551.5,137.57 551.9,137.09 552.3,137.18 552.7,138.93 553.1,139.68 553.5,137.86 553.9,141.8 554.3,140.66 554.7,141.07 555.1,142.81 555.5,142.4 555.9,142.33 556.3,145.73 556.7,143.07 557.1,144.65 557.5,146.21 557.9,144.94 558.3,146.58 558.7,147.75 559.1,150.45 559.5,147.83 559.9,149.33 560.3,150.66 560.7,150.66 561.1,149.9 561.5,151.99 561.9,152.16 562.3,152.96 562.7,154.08 563.1,154.37 563.5,154.16 563.9,154.43 564.3,153.36 564.7,154.63 565.1,155.26 565.5,154.9 565.9,155.65 566.3,154.96 566.7,157.56 567.1,158.39 567.5,156.06 567.9,157.05 568.3,156.6 568.7,158.28 569.1,157.61 569.5,157.41 569.9,157.25 570.3,157.73 570.7,156.72 571.1,158.53 571.5,157.26 571.9,158.63 572.3,158.35 572.7,159.42 573.1,158.42 573.5,159.55 573.9,157.69 574.3,159.29 574.7,158.51 575.1,158.97 575.5,158.87 575.9,159.74 576.3,156.78 576.7,159.12 577.1,157.31 577.5,160.01 577.9,156.83 578.3,157.8 578.7,157.13 579.1,160.44 579.5,157.51 579.9,158.91 580.3,158.26 580.7,157 581.1,158.47 581.5,159.57 581.9,158.94 582.3,160.36 582.7,159.39 583.1,160.1 583.5,160.03 583.9,161.01 584.3,162.73 584.7,161.33 585.1,161.28 585.5,160.58 585.9,160.55 586.3,162.88 586.7,160.4 587.1,160.69 587.5,161.59 587.9,161.35 588.3,163.81 588.7,159.56 589.1,162.36 589.5,162.78 589.9,161.02 590.3,161.56 590.7,162.7 591.1,163.96 591.5,161.47 591.9,160.88 592.3,163.49 592.7,164.11 593.1,162.32 593.5,160.5 593.9,164.23 594.3,162.65 594.7,164.04 595.1,162.93 595.5,162.66 595.9,162.65 596.3,164.63 596.7,164.65 597.1,161.14 597.5,162.4 597.9,165.16 598.3,163.07 598.7,162.14 599.1,163.55 599.5,163.49 599.9,163.55 600.3,163.22 600.7,163.44 601.1,163.34 601.5,164.18 601.9,163.08 602.3,163.65 602.7,163.83 603.1,165.32 603.5,164.43 603.9,163.99 604.3,164.67 604.7,164.58 605.1,165.3 605.5,164.75 605.9,166.08 606.3,165.67 606.7,164.32 607.1,163.99 607.5,165.33 607.9,165.01 608.3,164.44 608.7,163.11 609.1,162.81 609.5,165.05 609.9,165.54 610.3,165.64 610.7,163.63 611.1,166.04 611.5,164.55 611.9,165.55 612.3,165.66 612.7,164.53 613.1,164.82 613.5,163.41 613.9,164.64 614.3,163.82 614.7,166.11 615.1,165.78 615.5,166.67 615.9,166.14 616.3,165.16 616.7,166.15 617.1,165.41 617.5,166.41 617.9,166.12 618.3,164.81 618.7,165.8 619.1,165.86 619.5,165.49 619.9,166.69 620.3,167.51 620.7,165.43 621.1,165.45 621.5,163.55 621.9,165.67 622.3,165.36 622.7,163.64 623.1,166.09 623.5,166.39 623.9,165.07 624.3,165.43 624.7,164.82 625.1,166.52 625.5,164.2 625.9,165.35 626.3,167.56 626.7,165.59 627.1,165.94 627.5,165.25 627.9,164.14 628.3,165.21 628.7,165.58 629.1,164.09 629.5,165.4 629.9,166.25 630.3,166.04 630.7,163.35 631.1,163.92 631.5,163.24 631.9,165.89 632.3,165.39 632.7,165.45 633.1,163.84 633.5,163.52 633.9,164.74 634.3,164.74 634.7,163.76 635.1,164.75 635.5,165.25 635.9,164.83 636.3,163.58 636.7,162.53 637.1,164.42 637.5,164.89 637.9,164.52 638.3,164.4 638.7,164.2 639.1,165.66 639.5,164.95 639.9,165.18 640.3,164.15 640.7,164.56 641.1,165.42 641.5,164.32 641.9,164.15 642.3,165.16 642.7,166.77 643.1,165.85 643.5,167.2 643.9,165.7 644.3,165.61 644.7,164.61 645.1,165.51 645.5,167.61 645.9,166.58 646.3,167.07 646.7,167.12 647.1,166.47 647.5,166.35 647.9,166.74 648.3,167.37 648.7,167.23 649.1,167.34 649.5,167.08 649.9,166.23 650.3,166.81 650.7,166.21 651.1,168.22 651.5,165.19 651.9,167.14 652.3,169.8 652.7,167.13 653.1,166.39 653.5,167.56 653.9,168.91 654.3,167.5 654.7,168.3 655.1,167.81 655.5,167.36 655.9,170.9 656.3,167.84 656.7,167.25 657.1,167.31 657.5,168.2 657.9,168.24 658.3,168.61 658.7,167.99 659.1,166.43 659.5,168.4 659.9,167.57 660.3,167.6 660.7,166.41 661.1,167.33 661.5,167.18 661.9,167.88 662.3,166.48 662.7,167.99 663.1,168.07 663.5,166.84 663.9,167.35 664.3,167.13 664.7,168.91 665.1,165.5 665.5,167.7 665.9,166.4 666.3,167.66 666.7,168.96 667.1,167.52 667.5,168.34 667.9,167.41 668.3,170.26 668.7,169.3 669.1,169.6 669.5,167.22 669.9,167.54 670.3,169.81 670.7,168.64 671.1,168.67 671.5,169.36 671.9,167.87" fill="none" stroke="#111" stroke-width="1.15" stroke-linejoin="round"/>
<line x1="527.5" y1="81.8" x2="527.5" y2="87.6" stroke="#111" stroke-width="1.6"/>
<path d="M527.5,78.8 L525.6,83 L529.4,83 Z" fill="#111"/>
<path d="M527.5,90.6 L525.6,86.4 L529.4,86.4 Z" fill="#111"/>
<line x1="553.3" y1="53.5" x2="553.3" y2="86.8" stroke="#111" stroke-width="1.6"/>
<path d="M553.3,50.5 L551.4,54.7 L555.2,54.7 Z" fill="#111"/>
<path d="M553.3,89.8 L551.4,85.6 L555.2,85.6 Z" fill="#111"/>
<line x1="527.5" y1="123.2" x2="527.5" y2="128.2" stroke="#111" stroke-width="1.6"/>
<path d="M527.5,120.2 L525.6,124.4 L529.4,124.4 Z" fill="#111"/>
<path d="M527.5,131.2 L525.6,127 L529.4,127 Z" fill="#111"/>
<line x1="549.1" y1="97" x2="549.1" y2="128.2" stroke="#111" stroke-width="1.6"/>
<path d="M549.1,94 L547.2,98.2 L551,98.2 Z" fill="#111"/>
<path d="M549.1,131.2 L547.2,127 L551,127 Z" fill="#111"/>
<line x1="527.5" y1="157" x2="527.5" y2="166.6" stroke="#111" stroke-width="1.6"/>
<path d="M527.5,154 L525.6,158.2 L529.4,158.2 Z" fill="#111"/>
<path d="M527.5,169.6 L525.6,165.4 L529.4,165.4 Z" fill="#111"/>
<line x1="546.1" y1="137" x2="546.1" y2="166.6" stroke="#111" stroke-width="1.6"/>
<path d="M546.1,134 L544.2,138.2 L548,138.2 Z" fill="#111"/>
<path d="M546.1,169.6 L544.2,165.4 L548,165.4 Z" fill="#111"/>
<text transform="translate(404,49) scale(1,1)" font-size="12" fill="#111">1% H<tspan font-size="6.6" dy="3.84">2</tspan><tspan dy="-3.84">SO</tspan><tspan font-size="6.6" dy="3.84">4</tspan><tspan dy="-3.84"></tspan></text>
<text transform="translate(429,64.5) scale(1,1)" font-size="12" text-anchor="middle" fill="#111">+</text>
<text transform="translate(399.4,77) scale(1,1)" font-size="12" fill="#111">NaOH 4.0%</text>
<text transform="translate(399.7,123.3) scale(1,1)" font-size="12" fill="#111">1% H<tspan font-size="6.6" dy="3.84">2</tspan><tspan dy="-3.84">SO</tspan><tspan font-size="6.6" dy="3.84">4</tspan><tspan dy="-3.84"></tspan></text>
<text transform="translate(399.7,164) scale(1,1)" font-size="12" fill="#111">Untreated</text>
<text class="pk" transform="translate(478.3,81) rotate(-90) scale(1,1)" font-size="14.72" fill="#111">(101)</text>
<text class="pk" transform="translate(509.6,66.6) rotate(-90) scale(1,1)" font-size="14.72" fill="#111">(101)</text>
<line x1="497.4" y1="39" x2="497.4" y2="45.3" stroke="#111" stroke-width="1.3"/>
<text class="pk" transform="translate(529.5,74.3) rotate(-90) scale(1,1)" font-size="14.72" fill="#111">amorphous</text>
<text class="pk" transform="translate(557,46.3) rotate(-90) scale(1,1)" font-size="14.72" fill="#111">(002)</text>
<text class="pk" transform="translate(640.6,78) rotate(-90) scale(1,1)" font-size="14.72" fill="#111">(040)</text>
<rect x="49.6" y="212.7" width="276.8" height="204.4" fill="none" stroke="#111" stroke-width="1.3"/>
<line x1="45" y1="417.1" x2="49.6" y2="417.1" stroke="#111" stroke-width="1"/>
<line x1="321.8" y1="417.1" x2="326.4" y2="417.1" stroke="#111" stroke-width="1"/>
<line x1="47.3" y1="414.83" x2="49.6" y2="414.83" stroke="#111" stroke-width="1"/>
<line x1="324.1" y1="414.83" x2="326.4" y2="414.83" stroke="#111" stroke-width="1"/>
<line x1="47.3" y1="412.56" x2="49.6" y2="412.56" stroke="#111" stroke-width="1"/>
<line x1="324.1" y1="412.56" x2="326.4" y2="412.56" stroke="#111" stroke-width="1"/>
<line x1="47.3" y1="410.29" x2="49.6" y2="410.29" stroke="#111" stroke-width="1"/>
<line x1="324.1" y1="410.29" x2="326.4" y2="410.29" stroke="#111" stroke-width="1"/>
<line x1="47.3" y1="408.02" x2="49.6" y2="408.02" stroke="#111" stroke-width="1"/>
<line x1="324.1" y1="408.02" x2="326.4" y2="408.02" stroke="#111" stroke-width="1"/>
<line x1="47.3" y1="405.74" x2="49.6" y2="405.74" stroke="#111" stroke-width="1"/>
<line x1="324.1" y1="405.74" x2="326.4" y2="405.74" stroke="#111" stroke-width="1"/>
<line x1="47.3" y1="403.47" x2="49.6" y2="403.47" stroke="#111" stroke-width="1"/>
<line x1="324.1" y1="403.47" x2="326.4" y2="403.47" stroke="#111" stroke-width="1"/>
<line x1="47.3" y1="401.2" x2="49.6" y2="401.2" stroke="#111" stroke-width="1"/>
<line x1="324.1" y1="401.2" x2="326.4" y2="401.2" stroke="#111" stroke-width="1"/>
<line x1="47.3" y1="398.93" x2="49.6" y2="398.93" stroke="#111" stroke-width="1"/>
<line x1="324.1" y1="398.93" x2="326.4" y2="398.93" stroke="#111" stroke-width="1"/>
<line x1="47.3" y1="396.66" x2="49.6" y2="396.66" stroke="#111" stroke-width="1"/>
<line x1="324.1" y1="396.66" x2="326.4" y2="396.66" stroke="#111" stroke-width="1"/>
<line x1="45" y1="394.39" x2="49.6" y2="394.39" stroke="#111" stroke-width="1"/>
<line x1="321.8" y1="394.39" x2="326.4" y2="394.39" stroke="#111" stroke-width="1"/>
<line x1="47.3" y1="392.12" x2="49.6" y2="392.12" stroke="#111" stroke-width="1"/>
<line x1="324.1" y1="392.12" x2="326.4" y2="392.12" stroke="#111" stroke-width="1"/>
<line x1="47.3" y1="389.85" x2="49.6" y2="389.85" stroke="#111" stroke-width="1"/>
<line x1="324.1" y1="389.85" x2="326.4" y2="389.85" stroke="#111" stroke-width="1"/>
<line x1="47.3" y1="387.58" x2="49.6" y2="387.58" stroke="#111" stroke-width="1"/>
<line x1="324.1" y1="387.58" x2="326.4" y2="387.58" stroke="#111" stroke-width="1"/>
<line x1="47.3" y1="385.3" x2="49.6" y2="385.3" stroke="#111" stroke-width="1"/>
<line x1="324.1" y1="385.3" x2="326.4" y2="385.3" stroke="#111" stroke-width="1"/>
<line x1="47.3" y1="383.03" x2="49.6" y2="383.03" stroke="#111" stroke-width="1"/>
<line x1="324.1" y1="383.03" x2="326.4" y2="383.03" stroke="#111" stroke-width="1"/>
<line x1="47.3" y1="380.76" x2="49.6" y2="380.76" stroke="#111" stroke-width="1"/>
<line x1="324.1" y1="380.76" x2="326.4" y2="380.76" stroke="#111" stroke-width="1"/>
<line x1="47.3" y1="378.49" x2="49.6" y2="378.49" stroke="#111" stroke-width="1"/>
<line x1="324.1" y1="378.49" x2="326.4" y2="378.49" stroke="#111" stroke-width="1"/>
<line x1="47.3" y1="376.22" x2="49.6" y2="376.22" stroke="#111" stroke-width="1"/>
<line x1="324.1" y1="376.22" x2="326.4" y2="376.22" stroke="#111" stroke-width="1"/>
<line x1="47.3" y1="373.95" x2="49.6" y2="373.95" stroke="#111" stroke-width="1"/>
<line x1="324.1" y1="373.95" x2="326.4" y2="373.95" stroke="#111" stroke-width="1"/>
<line x1="45" y1="371.68" x2="49.6" y2="371.68" stroke="#111" stroke-width="1"/>
<line x1="321.8" y1="371.68" x2="326.4" y2="371.68" stroke="#111" stroke-width="1"/>
<line x1="47.3" y1="369.41" x2="49.6" y2="369.41" stroke="#111" stroke-width="1"/>
<line x1="324.1" y1="369.41" x2="326.4" y2="369.41" stroke="#111" stroke-width="1"/>
<line x1="47.3" y1="367.14" x2="49.6" y2="367.14" stroke="#111" stroke-width="1"/>
<line x1="324.1" y1="367.14" x2="326.4" y2="367.14" stroke="#111" stroke-width="1"/>
<line x1="47.3" y1="364.86" x2="49.6" y2="364.86" stroke="#111" stroke-width="1"/>
<line x1="324.1" y1="364.86" x2="326.4" y2="364.86" stroke="#111" stroke-width="1"/>
<line x1="47.3" y1="362.59" x2="49.6" y2="362.59" stroke="#111" stroke-width="1"/>
<line x1="324.1" y1="362.59" x2="326.4" y2="362.59" stroke="#111" stroke-width="1"/>
<line x1="47.3" y1="360.32" x2="49.6" y2="360.32" stroke="#111" stroke-width="1"/>
<line x1="324.1" y1="360.32" x2="326.4" y2="360.32" stroke="#111" stroke-width="1"/>
<line x1="47.3" y1="358.05" x2="49.6" y2="358.05" stroke="#111" stroke-width="1"/>
<line x1="324.1" y1="358.05" x2="326.4" y2="358.05" stroke="#111" stroke-width="1"/>
<line x1="47.3" y1="355.78" x2="49.6" y2="355.78" stroke="#111" stroke-width="1"/>
<line x1="324.1" y1="355.78" x2="326.4" y2="355.78" stroke="#111" stroke-width="1"/>
<line x1="47.3" y1="353.51" x2="49.6" y2="353.51" stroke="#111" stroke-width="1"/>
<line x1="324.1" y1="353.51" x2="326.4" y2="353.51" stroke="#111" stroke-width="1"/>
<line x1="47.3" y1="351.24" x2="49.6" y2="351.24" stroke="#111" stroke-width="1"/>
<line x1="324.1" y1="351.24" x2="326.4" y2="351.24" stroke="#111" stroke-width="1"/>
<line x1="45" y1="348.97" x2="49.6" y2="348.97" stroke="#111" stroke-width="1"/>
<line x1="321.8" y1="348.97" x2="326.4" y2="348.97" stroke="#111" stroke-width="1"/>
<line x1="47.3" y1="346.7" x2="49.6" y2="346.7" stroke="#111" stroke-width="1"/>
<line x1="324.1" y1="346.7" x2="326.4" y2="346.7" stroke="#111" stroke-width="1"/>
<line x1="47.3" y1="344.42" x2="49.6" y2="344.42" stroke="#111" stroke-width="1"/>
<line x1="324.1" y1="344.42" x2="326.4" y2="344.42" stroke="#111" stroke-width="1"/>
<line x1="47.3" y1="342.15" x2="49.6" y2="342.15" stroke="#111" stroke-width="1"/>
<line x1="324.1" y1="342.15" x2="326.4" y2="342.15" stroke="#111" stroke-width="1"/>
<line x1="47.3" y1="339.88" x2="49.6" y2="339.88" stroke="#111" stroke-width="1"/>
<line x1="324.1" y1="339.88" x2="326.4" y2="339.88" stroke="#111" stroke-width="1"/>
<line x1="47.3" y1="337.61" x2="49.6" y2="337.61" stroke="#111" stroke-width="1"/>
<line x1="324.1" y1="337.61" x2="326.4" y2="337.61" stroke="#111" stroke-width="1"/>
<line x1="47.3" y1="335.34" x2="49.6" y2="335.34" stroke="#111" stroke-width="1"/>
<line x1="324.1" y1="335.34" x2="326.4" y2="335.34" stroke="#111" stroke-width="1"/>
<line x1="47.3" y1="333.07" x2="49.6" y2="333.07" stroke="#111" stroke-width="1"/>
<line x1="324.1" y1="333.07" x2="326.4" y2="333.07" stroke="#111" stroke-width="1"/>
<line x1="47.3" y1="330.8" x2="49.6" y2="330.8" stroke="#111" stroke-width="1"/>
<line x1="324.1" y1="330.8" x2="326.4" y2="330.8" stroke="#111" stroke-width="1"/>
<line x1="47.3" y1="328.53" x2="49.6" y2="328.53" stroke="#111" stroke-width="1"/>
<line x1="324.1" y1="328.53" x2="326.4" y2="328.53" stroke="#111" stroke-width="1"/>
<line x1="45" y1="326.26" x2="49.6" y2="326.26" stroke="#111" stroke-width="1"/>
<line x1="321.8" y1="326.26" x2="326.4" y2="326.26" stroke="#111" stroke-width="1"/>
<line x1="47.3" y1="323.98" x2="49.6" y2="323.98" stroke="#111" stroke-width="1"/>
<line x1="324.1" y1="323.98" x2="326.4" y2="323.98" stroke="#111" stroke-width="1"/>
<line x1="47.3" y1="321.71" x2="49.6" y2="321.71" stroke="#111" stroke-width="1"/>
<line x1="324.1" y1="321.71" x2="326.4" y2="321.71" stroke="#111" stroke-width="1"/>
<line x1="47.3" y1="319.44" x2="49.6" y2="319.44" stroke="#111" stroke-width="1"/>
<line x1="324.1" y1="319.44" x2="326.4" y2="319.44" stroke="#111" stroke-width="1"/>
<line x1="47.3" y1="317.17" x2="49.6" y2="317.17" stroke="#111" stroke-width="1"/>
<line x1="324.1" y1="317.17" x2="326.4" y2="317.17" stroke="#111" stroke-width="1"/>
<line x1="47.3" y1="314.9" x2="49.6" y2="314.9" stroke="#111" stroke-width="1"/>
<line x1="324.1" y1="314.9" x2="326.4" y2="314.9" stroke="#111" stroke-width="1"/>
<line x1="47.3" y1="312.63" x2="49.6" y2="312.63" stroke="#111" stroke-width="1"/>
<line x1="324.1" y1="312.63" x2="326.4" y2="312.63" stroke="#111" stroke-width="1"/>
<line x1="47.3" y1="310.36" x2="49.6" y2="310.36" stroke="#111" stroke-width="1"/>
<line x1="324.1" y1="310.36" x2="326.4" y2="310.36" stroke="#111" stroke-width="1"/>
<line x1="47.3" y1="308.09" x2="49.6" y2="308.09" stroke="#111" stroke-width="1"/>
<line x1="324.1" y1="308.09" x2="326.4" y2="308.09" stroke="#111" stroke-width="1"/>
<line x1="47.3" y1="305.82" x2="49.6" y2="305.82" stroke="#111" stroke-width="1"/>
<line x1="324.1" y1="305.82" x2="326.4" y2="305.82" stroke="#111" stroke-width="1"/>
<line x1="45" y1="303.54" x2="49.6" y2="303.54" stroke="#111" stroke-width="1"/>
<line x1="321.8" y1="303.54" x2="326.4" y2="303.54" stroke="#111" stroke-width="1"/>
<line x1="47.3" y1="301.27" x2="49.6" y2="301.27" stroke="#111" stroke-width="1"/>
<line x1="324.1" y1="301.27" x2="326.4" y2="301.27" stroke="#111" stroke-width="1"/>
<line x1="47.3" y1="299" x2="49.6" y2="299" stroke="#111" stroke-width="1"/>
<line x1="324.1" y1="299" x2="326.4" y2="299" stroke="#111" stroke-width="1"/>
<line x1="47.3" y1="296.73" x2="49.6" y2="296.73" stroke="#111" stroke-width="1"/>
<line x1="324.1" y1="296.73" x2="326.4" y2="296.73" stroke="#111" stroke-width="1"/>
<line x1="47.3" y1="294.46" x2="49.6" y2="294.46" stroke="#111" stroke-width="1"/>
<line x1="324.1" y1="294.46" x2="326.4" y2="294.46" stroke="#111" stroke-width="1"/>
<line x1="47.3" y1="292.19" x2="49.6" y2="292.19" stroke="#111" stroke-width="1"/>
<line x1="324.1" y1="292.19" x2="326.4" y2="292.19" stroke="#111" stroke-width="1"/>
<line x1="47.3" y1="289.92" x2="49.6" y2="289.92" stroke="#111" stroke-width="1"/>
<line x1="324.1" y1="289.92" x2="326.4" y2="289.92" stroke="#111" stroke-width="1"/>
<line x1="47.3" y1="287.65" x2="49.6" y2="287.65" stroke="#111" stroke-width="1"/>
<line x1="324.1" y1="287.65" x2="326.4" y2="287.65" stroke="#111" stroke-width="1"/>
<line x1="47.3" y1="285.38" x2="49.6" y2="285.38" stroke="#111" stroke-width="1"/>
<line x1="324.1" y1="285.38" x2="326.4" y2="285.38" stroke="#111" stroke-width="1"/>
<line x1="47.3" y1="283.1" x2="49.6" y2="283.1" stroke="#111" stroke-width="1"/>
<line x1="324.1" y1="283.1" x2="326.4" y2="283.1" stroke="#111" stroke-width="1"/>
<line x1="45" y1="280.83" x2="49.6" y2="280.83" stroke="#111" stroke-width="1"/>
<line x1="321.8" y1="280.83" x2="326.4" y2="280.83" stroke="#111" stroke-width="1"/>
<line x1="47.3" y1="278.56" x2="49.6" y2="278.56" stroke="#111" stroke-width="1"/>
<line x1="324.1" y1="278.56" x2="326.4" y2="278.56" stroke="#111" stroke-width="1"/>
<line x1="47.3" y1="276.29" x2="49.6" y2="276.29" stroke="#111" stroke-width="1"/>
<line x1="324.1" y1="276.29" x2="326.4" y2="276.29" stroke="#111" stroke-width="1"/>
<line x1="47.3" y1="274.02" x2="49.6" y2="274.02" stroke="#111" stroke-width="1"/>
<line x1="324.1" y1="274.02" x2="326.4" y2="274.02" stroke="#111" stroke-width="1"/>
<line x1="47.3" y1="271.75" x2="49.6" y2="271.75" stroke="#111" stroke-width="1"/>
<line x1="324.1" y1="271.75" x2="326.4" y2="271.75" stroke="#111" stroke-width="1"/>
<line x1="47.3" y1="269.48" x2="49.6" y2="269.48" stroke="#111" stroke-width="1"/>
<line x1="324.1" y1="269.48" x2="326.4" y2="269.48" stroke="#111" stroke-width="1"/>
<line x1="47.3" y1="267.21" x2="49.6" y2="267.21" stroke="#111" stroke-width="1"/>
<line x1="324.1" y1="267.21" x2="326.4" y2="267.21" stroke="#111" stroke-width="1"/>
<line x1="47.3" y1="264.94" x2="49.6" y2="264.94" stroke="#111" stroke-width="1"/>
<line x1="324.1" y1="264.94" x2="326.4" y2="264.94" stroke="#111" stroke-width="1"/>
<line x1="47.3" y1="262.66" x2="49.6" y2="262.66" stroke="#111" stroke-width="1"/>
<line x1="324.1" y1="262.66" x2="326.4" y2="262.66" stroke="#111" stroke-width="1"/>
<line x1="47.3" y1="260.39" x2="49.6" y2="260.39" stroke="#111" stroke-width="1"/>
<line x1="324.1" y1="260.39" x2="326.4" y2="260.39" stroke="#111" stroke-width="1"/>
<line x1="45" y1="258.12" x2="49.6" y2="258.12" stroke="#111" stroke-width="1"/>
<line x1="321.8" y1="258.12" x2="326.4" y2="258.12" stroke="#111" stroke-width="1"/>
<line x1="47.3" y1="255.85" x2="49.6" y2="255.85" stroke="#111" stroke-width="1"/>
<line x1="324.1" y1="255.85" x2="326.4" y2="255.85" stroke="#111" stroke-width="1"/>
<line x1="47.3" y1="253.58" x2="49.6" y2="253.58" stroke="#111" stroke-width="1"/>
<line x1="324.1" y1="253.58" x2="326.4" y2="253.58" stroke="#111" stroke-width="1"/>
<line x1="47.3" y1="251.31" x2="49.6" y2="251.31" stroke="#111" stroke-width="1"/>
<line x1="324.1" y1="251.31" x2="326.4" y2="251.31" stroke="#111" stroke-width="1"/>
<line x1="47.3" y1="249.04" x2="49.6" y2="249.04" stroke="#111" stroke-width="1"/>
<line x1="324.1" y1="249.04" x2="326.4" y2="249.04" stroke="#111" stroke-width="1"/>
<line x1="47.3" y1="246.77" x2="49.6" y2="246.77" stroke="#111" stroke-width="1"/>
<line x1="324.1" y1="246.77" x2="326.4" y2="246.77" stroke="#111" stroke-width="1"/>
<line x1="47.3" y1="244.5" x2="49.6" y2="244.5" stroke="#111" stroke-width="1"/>
<line x1="324.1" y1="244.5" x2="326.4" y2="244.5" stroke="#111" stroke-width="1"/>
<line x1="47.3" y1="242.22" x2="49.6" y2="242.22" stroke="#111" stroke-width="1"/>
<line x1="324.1" y1="242.22" x2="326.4" y2="242.22" stroke="#111" stroke-width="1"/>
<line x1="47.3" y1="239.95" x2="49.6" y2="239.95" stroke="#111" stroke-width="1"/>
<line x1="324.1" y1="239.95" x2="326.4" y2="239.95" stroke="#111" stroke-width="1"/>
<line x1="47.3" y1="237.68" x2="49.6" y2="237.68" stroke="#111" stroke-width="1"/>
<line x1="324.1" y1="237.68" x2="326.4" y2="237.68" stroke="#111" stroke-width="1"/>
<line x1="45" y1="235.41" x2="49.6" y2="235.41" stroke="#111" stroke-width="1"/>
<line x1="321.8" y1="235.41" x2="326.4" y2="235.41" stroke="#111" stroke-width="1"/>
<line x1="47.3" y1="233.14" x2="49.6" y2="233.14" stroke="#111" stroke-width="1"/>
<line x1="324.1" y1="233.14" x2="326.4" y2="233.14" stroke="#111" stroke-width="1"/>
<line x1="47.3" y1="230.87" x2="49.6" y2="230.87" stroke="#111" stroke-width="1"/>
<line x1="324.1" y1="230.87" x2="326.4" y2="230.87" stroke="#111" stroke-width="1"/>
<line x1="47.3" y1="228.6" x2="49.6" y2="228.6" stroke="#111" stroke-width="1"/>
<line x1="324.1" y1="228.6" x2="326.4" y2="228.6" stroke="#111" stroke-width="1"/>
<line x1="47.3" y1="226.33" x2="49.6" y2="226.33" stroke="#111" stroke-width="1"/>
<line x1="324.1" y1="226.33" x2="326.4" y2="226.33" stroke="#111" stroke-width="1"/>
<line x1="47.3" y1="224.06" x2="49.6" y2="224.06" stroke="#111" stroke-width="1"/>
<line x1="324.1" y1="224.06" x2="326.4" y2="224.06" stroke="#111" stroke-width="1"/>
<line x1="47.3" y1="221.78" x2="49.6" y2="221.78" stroke="#111" stroke-width="1"/>
<line x1="324.1" y1="221.78" x2="326.4" y2="221.78" stroke="#111" stroke-width="1"/>
<line x1="47.3" y1="219.51" x2="49.6" y2="219.51" stroke="#111" stroke-width="1"/>
<line x1="324.1" y1="219.51" x2="326.4" y2="219.51" stroke="#111" stroke-width="1"/>
<line x1="47.3" y1="217.24" x2="49.6" y2="217.24" stroke="#111" stroke-width="1"/>
<line x1="324.1" y1="217.24" x2="326.4" y2="217.24" stroke="#111" stroke-width="1"/>
<line x1="47.3" y1="214.97" x2="49.6" y2="214.97" stroke="#111" stroke-width="1"/>
<line x1="324.1" y1="214.97" x2="326.4" y2="214.97" stroke="#111" stroke-width="1"/>
<line x1="45" y1="212.7" x2="49.6" y2="212.7" stroke="#111" stroke-width="1"/>
<line x1="321.8" y1="212.7" x2="326.4" y2="212.7" stroke="#111" stroke-width="1"/>
<text transform="translate(34.6,422.55) scale(1,1.14)" font-size="12.2" text-anchor="middle" fill="#111">30</text>
<text transform="translate(34.6,399.74) scale(1,1.14)" font-size="12.2" text-anchor="middle" fill="#111">35</text>
<text transform="translate(34.6,376.94) scale(1,1.14)" font-size="12.2" text-anchor="middle" fill="#111">40</text>
<text transform="translate(34.6,354.13) scale(1,1.14)" font-size="12.2" text-anchor="middle" fill="#111">45</text>
<text transform="translate(34.6,331.33) scale(1,1.14)" font-size="12.2" text-anchor="middle" fill="#111">50</text>
<text transform="translate(34.6,308.52) scale(1,1.14)" font-size="12.2" text-anchor="middle" fill="#111">55</text>
<text transform="translate(34.6,285.72) scale(1,1.14)" font-size="12.2" text-anchor="middle" fill="#111">60</text>
<text transform="translate(34.6,262.91) scale(1,1.14)" font-size="12.2" text-anchor="middle" fill="#111">65</text>
<text transform="translate(34.6,240.11) scale(1,1.14)" font-size="12.2" text-anchor="middle" fill="#111">70</text>
<text transform="translate(34.6,217.3) scale(1,1.14)" font-size="12.2" text-anchor="middle" fill="#111">75</text>
<line x1="69.6" y1="417.1" x2="69.6" y2="421.6" stroke="#111" stroke-width="1.2"/>
<line x1="69.6" y1="212.7" x2="69.6" y2="217.2" stroke="#111" stroke-width="1.2"/>
<line x1="103.5" y1="417.1" x2="103.5" y2="421.6" stroke="#111" stroke-width="1.2"/>
<line x1="103.5" y1="212.7" x2="103.5" y2="217.2" stroke="#111" stroke-width="1.2"/>
<line x1="137.4" y1="417.1" x2="137.4" y2="421.6" stroke="#111" stroke-width="1.2"/>
<line x1="137.4" y1="212.7" x2="137.4" y2="217.2" stroke="#111" stroke-width="1.2"/>
<line x1="171.3" y1="417.1" x2="171.3" y2="421.6" stroke="#111" stroke-width="1.2"/>
<line x1="171.3" y1="212.7" x2="171.3" y2="217.2" stroke="#111" stroke-width="1.2"/>
<line x1="205.2" y1="417.1" x2="205.2" y2="421.6" stroke="#111" stroke-width="1.2"/>
<line x1="205.2" y1="212.7" x2="205.2" y2="217.2" stroke="#111" stroke-width="1.2"/>
<line x1="239.1" y1="417.1" x2="239.1" y2="421.6" stroke="#111" stroke-width="1.2"/>
<line x1="239.1" y1="212.7" x2="239.1" y2="217.2" stroke="#111" stroke-width="1.2"/>
<line x1="273" y1="417.1" x2="273" y2="421.6" stroke="#111" stroke-width="1.2"/>
<line x1="273" y1="212.7" x2="273" y2="217.2" stroke="#111" stroke-width="1.2"/>
<line x1="306.9" y1="417.1" x2="306.9" y2="421.6" stroke="#111" stroke-width="1.2"/>
<line x1="306.9" y1="212.7" x2="306.9" y2="217.2" stroke="#111" stroke-width="1.2"/>
<line x1="71.7" y1="384.85" x2="71.7" y2="403.02" stroke="#111" stroke-width="1.5"/>
<line x1="68.7" y1="384.85" x2="74.7" y2="384.85" stroke="#111" stroke-width="1.5"/>
<line x1="68.7" y1="403.02" x2="74.7" y2="403.02" stroke="#111" stroke-width="1.5"/>
<rect x="69.1" y="391.23" width="5.2" height="5.4" fill="#111"/>
<line x1="105" y1="333.07" x2="105" y2="351.24" stroke="#111" stroke-width="1.5"/>
<line x1="102" y1="333.07" x2="108" y2="333.07" stroke="#111" stroke-width="1.5"/>
<line x1="102" y1="351.24" x2="108" y2="351.24" stroke="#111" stroke-width="1.5"/>
<rect x="102.4" y="339.45" width="5.2" height="5.4" fill="#111"/>
<line x1="138.6" y1="329.44" x2="138.6" y2="347.6" stroke="#111" stroke-width="1.5"/>
<line x1="135.6" y1="329.44" x2="141.6" y2="329.44" stroke="#111" stroke-width="1.5"/>
<line x1="135.6" y1="347.6" x2="141.6" y2="347.6" stroke="#111" stroke-width="1.5"/>
<rect x="136" y="335.82" width="5.2" height="5.4" fill="#111"/>
<line x1="172.1" y1="301.5" x2="172.1" y2="319.67" stroke="#111" stroke-width="1.5"/>
<line x1="169.1" y1="301.5" x2="175.1" y2="301.5" stroke="#111" stroke-width="1.5"/>
<line x1="169.1" y1="319.67" x2="175.1" y2="319.67" stroke="#111" stroke-width="1.5"/>
<rect x="169.5" y="307.88" width="5.2" height="5.4" fill="#111"/>
<line x1="204.9" y1="288.56" x2="204.9" y2="306.72" stroke="#111" stroke-width="1.5"/>
<line x1="201.9" y1="288.56" x2="207.9" y2="288.56" stroke="#111" stroke-width="1.5"/>
<line x1="201.9" y1="306.72" x2="207.9" y2="306.72" stroke="#111" stroke-width="1.5"/>
<rect x="202.3" y="294.94" width="5.2" height="5.4" fill="#111"/>
<line x1="238" y1="292.64" x2="238" y2="310.81" stroke="#111" stroke-width="1.5"/>
<line x1="235" y1="292.64" x2="241" y2="292.64" stroke="#111" stroke-width="1.5"/>
<line x1="235" y1="310.81" x2="241" y2="310.81" stroke="#111" stroke-width="1.5"/>
<rect x="235.4" y="299.03" width="5.2" height="5.4" fill="#111"/>
<line x1="271.4" y1="284.92" x2="271.4" y2="303.09" stroke="#111" stroke-width="1.5"/>
<line x1="268.4" y1="284.92" x2="274.4" y2="284.92" stroke="#111" stroke-width="1.5"/>
<line x1="268.4" y1="303.09" x2="274.4" y2="303.09" stroke="#111" stroke-width="1.5"/>
<rect x="268.8" y="291.31" width="5.2" height="5.4" fill="#111"/>
<line x1="304.6" y1="284.92" x2="304.6" y2="303.09" stroke="#111" stroke-width="1.5"/>
<line x1="301.6" y1="284.92" x2="307.6" y2="284.92" stroke="#111" stroke-width="1.5"/>
<line x1="301.6" y1="303.09" x2="307.6" y2="303.09" stroke="#111" stroke-width="1.5"/>
<rect x="302" y="291.31" width="5.2" height="5.4" fill="#111"/>
<text transform="translate(11.8,316) rotate(-90) scale(1,1)" font-size="14.7" text-anchor="middle" fill="#111">Crystallinity index CI [%]</text>
<text class="ns" transform="translate(66,430.3) rotate(90) scale(1,1)" font-size="12" fill="#111">Untreated</text>
<text class="ns" transform="translate(99.9,430.3) rotate(90) scale(1,1)" font-size="12" fill="#111">1% H<tspan font-size="7.2" dy="2.52">2</tspan><tspan dy="-2.52">SO</tspan><tspan font-size="7.2" dy="2.52">4</tspan><tspan dy="-2.52"> + 0% NaOH</tspan></text>
<text class="ns" transform="translate(133.8,430.3) rotate(90) scale(1,1)" font-size="12" fill="#111">1% H<tspan font-size="7.2" dy="2.52">2</tspan><tspan dy="-2.52">SO</tspan><tspan font-size="7.2" dy="2.52">4</tspan><tspan dy="-2.52"> + 0.25% NaOH</tspan></text>
<text class="ns" transform="translate(167.7,430.3) rotate(90) scale(1,1)" font-size="12" fill="#111">1% H<tspan font-size="7.2" dy="2.52">2</tspan><tspan dy="-2.52">SO</tspan><tspan font-size="7.2" dy="2.52">4</tspan><tspan dy="-2.52"> + 0.5% NaOH</tspan></text>
<text class="ns" transform="translate(201.6,430.3) rotate(90) scale(1,1)" font-size="12" fill="#111">1% H<tspan font-size="7.2" dy="2.52">2</tspan><tspan dy="-2.52">SO</tspan><tspan font-size="7.2" dy="2.52">4</tspan><tspan dy="-2.52"> + 1% NaOH</tspan></text>
<text class="ns" transform="translate(235.5,430.3) rotate(90) scale(1,1)" font-size="12" fill="#111">1% H<tspan font-size="7.2" dy="2.52">2</tspan><tspan dy="-2.52">SO</tspan><tspan font-size="7.2" dy="2.52">4</tspan><tspan dy="-2.52"> + 2% NaOH</tspan></text>
<text class="ns" transform="translate(269.4,430.3) rotate(90) scale(1,1)" font-size="12" fill="#111">1% H<tspan font-size="7.2" dy="2.52">2</tspan><tspan dy="-2.52">SO</tspan><tspan font-size="7.2" dy="2.52">4</tspan><tspan dy="-2.52"> + 3% NaOH</tspan></text>
<text class="ns" transform="translate(303.3,430.3) rotate(90) scale(1,1)" font-size="12" fill="#111">1% H<tspan font-size="7.2" dy="2.52">2</tspan><tspan dy="-2.52">SO</tspan><tspan font-size="7.2" dy="2.52">4</tspan><tspan dy="-2.52"> + 4% NaOH</tspan></text>
<rect x="407.3" y="213.5" width="275.9" height="204.3" fill="none" stroke="#111" stroke-width="1.3"/>
<line x1="402.7" y1="417.8" x2="407.3" y2="417.8" stroke="#111" stroke-width="1"/>
<line x1="678.6" y1="417.8" x2="683.2" y2="417.8" stroke="#111" stroke-width="1"/>
<line x1="405" y1="415.53" x2="407.3" y2="415.53" stroke="#111" stroke-width="1"/>
<line x1="680.9" y1="415.53" x2="683.2" y2="415.53" stroke="#111" stroke-width="1"/>
<line x1="405" y1="413.26" x2="407.3" y2="413.26" stroke="#111" stroke-width="1"/>
<line x1="680.9" y1="413.26" x2="683.2" y2="413.26" stroke="#111" stroke-width="1"/>
<line x1="405" y1="410.99" x2="407.3" y2="410.99" stroke="#111" stroke-width="1"/>
<line x1="680.9" y1="410.99" x2="683.2" y2="410.99" stroke="#111" stroke-width="1"/>
<line x1="405" y1="408.72" x2="407.3" y2="408.72" stroke="#111" stroke-width="1"/>
<line x1="680.9" y1="408.72" x2="683.2" y2="408.72" stroke="#111" stroke-width="1"/>
<line x1="405" y1="406.45" x2="407.3" y2="406.45" stroke="#111" stroke-width="1"/>
<line x1="680.9" y1="406.45" x2="683.2" y2="406.45" stroke="#111" stroke-width="1"/>
<line x1="405" y1="404.18" x2="407.3" y2="404.18" stroke="#111" stroke-width="1"/>
<line x1="680.9" y1="404.18" x2="683.2" y2="404.18" stroke="#111" stroke-width="1"/>
<line x1="405" y1="401.91" x2="407.3" y2="401.91" stroke="#111" stroke-width="1"/>
<line x1="680.9" y1="401.91" x2="683.2" y2="401.91" stroke="#111" stroke-width="1"/>
<line x1="405" y1="399.64" x2="407.3" y2="399.64" stroke="#111" stroke-width="1"/>
<line x1="680.9" y1="399.64" x2="683.2" y2="399.64" stroke="#111" stroke-width="1"/>
<line x1="405" y1="397.37" x2="407.3" y2="397.37" stroke="#111" stroke-width="1"/>
<line x1="680.9" y1="397.37" x2="683.2" y2="397.37" stroke="#111" stroke-width="1"/>
<line x1="402.7" y1="395.1" x2="407.3" y2="395.1" stroke="#111" stroke-width="1"/>
<line x1="678.6" y1="395.1" x2="683.2" y2="395.1" stroke="#111" stroke-width="1"/>
<line x1="405" y1="392.83" x2="407.3" y2="392.83" stroke="#111" stroke-width="1"/>
<line x1="680.9" y1="392.83" x2="683.2" y2="392.83" stroke="#111" stroke-width="1"/>
<line x1="405" y1="390.56" x2="407.3" y2="390.56" stroke="#111" stroke-width="1"/>
<line x1="680.9" y1="390.56" x2="683.2" y2="390.56" stroke="#111" stroke-width="1"/>
<line x1="405" y1="388.29" x2="407.3" y2="388.29" stroke="#111" stroke-width="1"/>
<line x1="680.9" y1="388.29" x2="683.2" y2="388.29" stroke="#111" stroke-width="1"/>
<line x1="405" y1="386.02" x2="407.3" y2="386.02" stroke="#111" stroke-width="1"/>
<line x1="680.9" y1="386.02" x2="683.2" y2="386.02" stroke="#111" stroke-width="1"/>
<line x1="405" y1="383.75" x2="407.3" y2="383.75" stroke="#111" stroke-width="1"/>
<line x1="680.9" y1="383.75" x2="683.2" y2="383.75" stroke="#111" stroke-width="1"/>
<line x1="405" y1="381.48" x2="407.3" y2="381.48" stroke="#111" stroke-width="1"/>
<line x1="680.9" y1="381.48" x2="683.2" y2="381.48" stroke="#111" stroke-width="1"/>
<line x1="405" y1="379.21" x2="407.3" y2="379.21" stroke="#111" stroke-width="1"/>
<line x1="680.9" y1="379.21" x2="683.2" y2="379.21" stroke="#111" stroke-width="1"/>
<line x1="405" y1="376.94" x2="407.3" y2="376.94" stroke="#111" stroke-width="1"/>
<line x1="680.9" y1="376.94" x2="683.2" y2="376.94" stroke="#111" stroke-width="1"/>
<line x1="405" y1="374.67" x2="407.3" y2="374.67" stroke="#111" stroke-width="1"/>
<line x1="680.9" y1="374.67" x2="683.2" y2="374.67" stroke="#111" stroke-width="1"/>
<line x1="402.7" y1="372.4" x2="407.3" y2="372.4" stroke="#111" stroke-width="1"/>
<line x1="678.6" y1="372.4" x2="683.2" y2="372.4" stroke="#111" stroke-width="1"/>
<line x1="405" y1="370.13" x2="407.3" y2="370.13" stroke="#111" stroke-width="1"/>
<line x1="680.9" y1="370.13" x2="683.2" y2="370.13" stroke="#111" stroke-width="1"/>
<line x1="405" y1="367.86" x2="407.3" y2="367.86" stroke="#111" stroke-width="1"/>
<line x1="680.9" y1="367.86" x2="683.2" y2="367.86" stroke="#111" stroke-width="1"/>
<line x1="405" y1="365.59" x2="407.3" y2="365.59" stroke="#111" stroke-width="1"/>
<line x1="680.9" y1="365.59" x2="683.2" y2="365.59" stroke="#111" stroke-width="1"/>
<line x1="405" y1="363.32" x2="407.3" y2="363.32" stroke="#111" stroke-width="1"/>
<line x1="680.9" y1="363.32" x2="683.2" y2="363.32" stroke="#111" stroke-width="1"/>
<line x1="405" y1="361.05" x2="407.3" y2="361.05" stroke="#111" stroke-width="1"/>
<line x1="680.9" y1="361.05" x2="683.2" y2="361.05" stroke="#111" stroke-width="1"/>
<line x1="405" y1="358.78" x2="407.3" y2="358.78" stroke="#111" stroke-width="1"/>
<line x1="680.9" y1="358.78" x2="683.2" y2="358.78" stroke="#111" stroke-width="1"/>
<line x1="405" y1="356.51" x2="407.3" y2="356.51" stroke="#111" stroke-width="1"/>
<line x1="680.9" y1="356.51" x2="683.2" y2="356.51" stroke="#111" stroke-width="1"/>
<line x1="405" y1="354.24" x2="407.3" y2="354.24" stroke="#111" stroke-width="1"/>
<line x1="680.9" y1="354.24" x2="683.2" y2="354.24" stroke="#111" stroke-width="1"/>
<line x1="405" y1="351.97" x2="407.3" y2="351.97" stroke="#111" stroke-width="1"/>
<line x1="680.9" y1="351.97" x2="683.2" y2="351.97" stroke="#111" stroke-width="1"/>
<line x1="402.7" y1="349.7" x2="407.3" y2="349.7" stroke="#111" stroke-width="1"/>
<line x1="678.6" y1="349.7" x2="683.2" y2="349.7" stroke="#111" stroke-width="1"/>
<line x1="405" y1="347.43" x2="407.3" y2="347.43" stroke="#111" stroke-width="1"/>
<line x1="680.9" y1="347.43" x2="683.2" y2="347.43" stroke="#111" stroke-width="1"/>
<line x1="405" y1="345.16" x2="407.3" y2="345.16" stroke="#111" stroke-width="1"/>
<line x1="680.9" y1="345.16" x2="683.2" y2="345.16" stroke="#111" stroke-width="1"/>
<line x1="405" y1="342.89" x2="407.3" y2="342.89" stroke="#111" stroke-width="1"/>
<line x1="680.9" y1="342.89" x2="683.2" y2="342.89" stroke="#111" stroke-width="1"/>
<line x1="405" y1="340.62" x2="407.3" y2="340.62" stroke="#111" stroke-width="1"/>
<line x1="680.9" y1="340.62" x2="683.2" y2="340.62" stroke="#111" stroke-width="1"/>
<line x1="405" y1="338.35" x2="407.3" y2="338.35" stroke="#111" stroke-width="1"/>
<line x1="680.9" y1="338.35" x2="683.2" y2="338.35" stroke="#111" stroke-width="1"/>
<line x1="405" y1="336.08" x2="407.3" y2="336.08" stroke="#111" stroke-width="1"/>
<line x1="680.9" y1="336.08" x2="683.2" y2="336.08" stroke="#111" stroke-width="1"/>
<line x1="405" y1="333.81" x2="407.3" y2="333.81" stroke="#111" stroke-width="1"/>
<line x1="680.9" y1="333.81" x2="683.2" y2="333.81" stroke="#111" stroke-width="1"/>
<line x1="405" y1="331.54" x2="407.3" y2="331.54" stroke="#111" stroke-width="1"/>
<line x1="680.9" y1="331.54" x2="683.2" y2="331.54" stroke="#111" stroke-width="1"/>
<line x1="405" y1="329.27" x2="407.3" y2="329.27" stroke="#111" stroke-width="1"/>
<line x1="680.9" y1="329.27" x2="683.2" y2="329.27" stroke="#111" stroke-width="1"/>
<line x1="402.7" y1="327" x2="407.3" y2="327" stroke="#111" stroke-width="1"/>
<line x1="678.6" y1="327" x2="683.2" y2="327" stroke="#111" stroke-width="1"/>
<line x1="405" y1="324.73" x2="407.3" y2="324.73" stroke="#111" stroke-width="1"/>
<line x1="680.9" y1="324.73" x2="683.2" y2="324.73" stroke="#111" stroke-width="1"/>
<line x1="405" y1="322.46" x2="407.3" y2="322.46" stroke="#111" stroke-width="1"/>
<line x1="680.9" y1="322.46" x2="683.2" y2="322.46" stroke="#111" stroke-width="1"/>
<line x1="405" y1="320.19" x2="407.3" y2="320.19" stroke="#111" stroke-width="1"/>
<line x1="680.9" y1="320.19" x2="683.2" y2="320.19" stroke="#111" stroke-width="1"/>
<line x1="405" y1="317.92" x2="407.3" y2="317.92" stroke="#111" stroke-width="1"/>
<line x1="680.9" y1="317.92" x2="683.2" y2="317.92" stroke="#111" stroke-width="1"/>
<line x1="405" y1="315.65" x2="407.3" y2="315.65" stroke="#111" stroke-width="1"/>
<line x1="680.9" y1="315.65" x2="683.2" y2="315.65" stroke="#111" stroke-width="1"/>
<line x1="405" y1="313.38" x2="407.3" y2="313.38" stroke="#111" stroke-width="1"/>
<line x1="680.9" y1="313.38" x2="683.2" y2="313.38" stroke="#111" stroke-width="1"/>
<line x1="405" y1="311.11" x2="407.3" y2="311.11" stroke="#111" stroke-width="1"/>
<line x1="680.9" y1="311.11" x2="683.2" y2="311.11" stroke="#111" stroke-width="1"/>
<line x1="405" y1="308.84" x2="407.3" y2="308.84" stroke="#111" stroke-width="1"/>
<line x1="680.9" y1="308.84" x2="683.2" y2="308.84" stroke="#111" stroke-width="1"/>
<line x1="405" y1="306.57" x2="407.3" y2="306.57" stroke="#111" stroke-width="1"/>
<line x1="680.9" y1="306.57" x2="683.2" y2="306.57" stroke="#111" stroke-width="1"/>
<line x1="402.7" y1="304.3" x2="407.3" y2="304.3" stroke="#111" stroke-width="1"/>
<line x1="678.6" y1="304.3" x2="683.2" y2="304.3" stroke="#111" stroke-width="1"/>
<line x1="405" y1="302.03" x2="407.3" y2="302.03" stroke="#111" stroke-width="1"/>
<line x1="680.9" y1="302.03" x2="683.2" y2="302.03" stroke="#111" stroke-width="1"/>
<line x1="405" y1="299.76" x2="407.3" y2="299.76" stroke="#111" stroke-width="1"/>
<line x1="680.9" y1="299.76" x2="683.2" y2="299.76" stroke="#111" stroke-width="1"/>
<line x1="405" y1="297.49" x2="407.3" y2="297.49" stroke="#111" stroke-width="1"/>
<line x1="680.9" y1="297.49" x2="683.2" y2="297.49" stroke="#111" stroke-width="1"/>
<line x1="405" y1="295.22" x2="407.3" y2="295.22" stroke="#111" stroke-width="1"/>
<line x1="680.9" y1="295.22" x2="683.2" y2="295.22" stroke="#111" stroke-width="1"/>
<line x1="405" y1="292.95" x2="407.3" y2="292.95" stroke="#111" stroke-width="1"/>
<line x1="680.9" y1="292.95" x2="683.2" y2="292.95" stroke="#111" stroke-width="1"/>
<line x1="405" y1="290.68" x2="407.3" y2="290.68" stroke="#111" stroke-width="1"/>
<line x1="680.9" y1="290.68" x2="683.2" y2="290.68" stroke="#111" stroke-width="1"/>
<line x1="405" y1="288.41" x2="407.3" y2="288.41" stroke="#111" stroke-width="1"/>
<line x1="680.9" y1="288.41" x2="683.2" y2="288.41" stroke="#111" stroke-width="1"/>
<line x1="405" y1="286.14" x2="407.3" y2="286.14" stroke="#111" stroke-width="1"/>
<line x1="680.9" y1="286.14" x2="683.2" y2="286.14" stroke="#111" stroke-width="1"/>
<line x1="405" y1="283.87" x2="407.3" y2="283.87" stroke="#111" stroke-width="1"/>
<line x1="680.9" y1="283.87" x2="683.2" y2="283.87" stroke="#111" stroke-width="1"/>
<line x1="402.7" y1="281.6" x2="407.3" y2="281.6" stroke="#111" stroke-width="1"/>
<line x1="678.6" y1="281.6" x2="683.2" y2="281.6" stroke="#111" stroke-width="1"/>
<line x1="405" y1="279.33" x2="407.3" y2="279.33" stroke="#111" stroke-width="1"/>
<line x1="680.9" y1="279.33" x2="683.2" y2="279.33" stroke="#111" stroke-width="1"/>
<line x1="405" y1="277.06" x2="407.3" y2="277.06" stroke="#111" stroke-width="1"/>
<line x1="680.9" y1="277.06" x2="683.2" y2="277.06" stroke="#111" stroke-width="1"/>
<line x1="405" y1="274.79" x2="407.3" y2="274.79" stroke="#111" stroke-width="1"/>
<line x1="680.9" y1="274.79" x2="683.2" y2="274.79" stroke="#111" stroke-width="1"/>
<line x1="405" y1="272.52" x2="407.3" y2="272.52" stroke="#111" stroke-width="1"/>
<line x1="680.9" y1="272.52" x2="683.2" y2="272.52" stroke="#111" stroke-width="1"/>
<line x1="405" y1="270.25" x2="407.3" y2="270.25" stroke="#111" stroke-width="1"/>
<line x1="680.9" y1="270.25" x2="683.2" y2="270.25" stroke="#111" stroke-width="1"/>
<line x1="405" y1="267.98" x2="407.3" y2="267.98" stroke="#111" stroke-width="1"/>
<line x1="680.9" y1="267.98" x2="683.2" y2="267.98" stroke="#111" stroke-width="1"/>
<line x1="405" y1="265.71" x2="407.3" y2="265.71" stroke="#111" stroke-width="1"/>
<line x1="680.9" y1="265.71" x2="683.2" y2="265.71" stroke="#111" stroke-width="1"/>
<line x1="405" y1="263.44" x2="407.3" y2="263.44" stroke="#111" stroke-width="1"/>
<line x1="680.9" y1="263.44" x2="683.2" y2="263.44" stroke="#111" stroke-width="1"/>
<line x1="405" y1="261.17" x2="407.3" y2="261.17" stroke="#111" stroke-width="1"/>
<line x1="680.9" y1="261.17" x2="683.2" y2="261.17" stroke="#111" stroke-width="1"/>
<line x1="402.7" y1="258.9" x2="407.3" y2="258.9" stroke="#111" stroke-width="1"/>
<line x1="678.6" y1="258.9" x2="683.2" y2="258.9" stroke="#111" stroke-width="1"/>
<line x1="405" y1="256.63" x2="407.3" y2="256.63" stroke="#111" stroke-width="1"/>
<line x1="680.9" y1="256.63" x2="683.2" y2="256.63" stroke="#111" stroke-width="1"/>
<line x1="405" y1="254.36" x2="407.3" y2="254.36" stroke="#111" stroke-width="1"/>
<line x1="680.9" y1="254.36" x2="683.2" y2="254.36" stroke="#111" stroke-width="1"/>
<line x1="405" y1="252.09" x2="407.3" y2="252.09" stroke="#111" stroke-width="1"/>
<line x1="680.9" y1="252.09" x2="683.2" y2="252.09" stroke="#111" stroke-width="1"/>
<line x1="405" y1="249.82" x2="407.3" y2="249.82" stroke="#111" stroke-width="1"/>
<line x1="680.9" y1="249.82" x2="683.2" y2="249.82" stroke="#111" stroke-width="1"/>
<line x1="405" y1="247.55" x2="407.3" y2="247.55" stroke="#111" stroke-width="1"/>
<line x1="680.9" y1="247.55" x2="683.2" y2="247.55" stroke="#111" stroke-width="1"/>
<line x1="405" y1="245.28" x2="407.3" y2="245.28" stroke="#111" stroke-width="1"/>
<line x1="680.9" y1="245.28" x2="683.2" y2="245.28" stroke="#111" stroke-width="1"/>
<line x1="405" y1="243.01" x2="407.3" y2="243.01" stroke="#111" stroke-width="1"/>
<line x1="680.9" y1="243.01" x2="683.2" y2="243.01" stroke="#111" stroke-width="1"/>
<line x1="405" y1="240.74" x2="407.3" y2="240.74" stroke="#111" stroke-width="1"/>
<line x1="680.9" y1="240.74" x2="683.2" y2="240.74" stroke="#111" stroke-width="1"/>
<line x1="405" y1="238.47" x2="407.3" y2="238.47" stroke="#111" stroke-width="1"/>
<line x1="680.9" y1="238.47" x2="683.2" y2="238.47" stroke="#111" stroke-width="1"/>
<line x1="402.7" y1="236.2" x2="407.3" y2="236.2" stroke="#111" stroke-width="1"/>
<line x1="678.6" y1="236.2" x2="683.2" y2="236.2" stroke="#111" stroke-width="1"/>
<line x1="405" y1="233.93" x2="407.3" y2="233.93" stroke="#111" stroke-width="1"/>
<line x1="680.9" y1="233.93" x2="683.2" y2="233.93" stroke="#111" stroke-width="1"/>
<line x1="405" y1="231.66" x2="407.3" y2="231.66" stroke="#111" stroke-width="1"/>
<line x1="680.9" y1="231.66" x2="683.2" y2="231.66" stroke="#111" stroke-width="1"/>
<line x1="405" y1="229.39" x2="407.3" y2="229.39" stroke="#111" stroke-width="1"/>
<line x1="680.9" y1="229.39" x2="683.2" y2="229.39" stroke="#111" stroke-width="1"/>
<line x1="405" y1="227.12" x2="407.3" y2="227.12" stroke="#111" stroke-width="1"/>
<line x1="680.9" y1="227.12" x2="683.2" y2="227.12" stroke="#111" stroke-width="1"/>
<line x1="405" y1="224.85" x2="407.3" y2="224.85" stroke="#111" stroke-width="1"/>
<line x1="680.9" y1="224.85" x2="683.2" y2="224.85" stroke="#111" stroke-width="1"/>
<line x1="405" y1="222.58" x2="407.3" y2="222.58" stroke="#111" stroke-width="1"/>
<line x1="680.9" y1="222.58" x2="683.2" y2="222.58" stroke="#111" stroke-width="1"/>
<line x1="405" y1="220.31" x2="407.3" y2="220.31" stroke="#111" stroke-width="1"/>
<line x1="680.9" y1="220.31" x2="683.2" y2="220.31" stroke="#111" stroke-width="1"/>
<line x1="405" y1="218.04" x2="407.3" y2="218.04" stroke="#111" stroke-width="1"/>
<line x1="680.9" y1="218.04" x2="683.2" y2="218.04" stroke="#111" stroke-width="1"/>
<line x1="405" y1="215.77" x2="407.3" y2="215.77" stroke="#111" stroke-width="1"/>
<line x1="680.9" y1="215.77" x2="683.2" y2="215.77" stroke="#111" stroke-width="1"/>
<line x1="402.7" y1="213.5" x2="407.3" y2="213.5" stroke="#111" stroke-width="1"/>
<line x1="678.6" y1="213.5" x2="683.2" y2="213.5" stroke="#111" stroke-width="1"/>
<text transform="translate(391.5,423.25) scale(1,1.14)" font-size="12.2" text-anchor="middle" fill="#111">30</text>
<text transform="translate(391.5,400.46) scale(1,1.14)" font-size="12.2" text-anchor="middle" fill="#111">35</text>
<text transform="translate(391.5,377.66) scale(1,1.14)" font-size="12.2" text-anchor="middle" fill="#111">40</text>
<text transform="translate(391.5,354.87) scale(1,1.14)" font-size="12.2" text-anchor="middle" fill="#111">45</text>
<text transform="translate(391.5,332.07) scale(1,1.14)" font-size="12.2" text-anchor="middle" fill="#111">50</text>
<text transform="translate(391.5,309.28) scale(1,1.14)" font-size="12.2" text-anchor="middle" fill="#111">55</text>
<text transform="translate(391.5,286.48) scale(1,1.14)" font-size="12.2" text-anchor="middle" fill="#111">60</text>
<text transform="translate(391.5,263.69) scale(1,1.14)" font-size="12.2" text-anchor="middle" fill="#111">65</text>
<text transform="translate(391.5,240.89) scale(1,1.14)" font-size="12.2" text-anchor="middle" fill="#111">70</text>
<text transform="translate(391.5,218.1) scale(1,1.14)" font-size="12.2" text-anchor="middle" fill="#111">75</text>
<line x1="427" y1="417.8" x2="427" y2="422.3" stroke="#111" stroke-width="1.2"/>
<line x1="427" y1="213.5" x2="427" y2="218" stroke="#111" stroke-width="1.2"/>
<line x1="460.9" y1="417.8" x2="460.9" y2="422.3" stroke="#111" stroke-width="1.2"/>
<line x1="460.9" y1="213.5" x2="460.9" y2="218" stroke="#111" stroke-width="1.2"/>
<line x1="494.8" y1="417.8" x2="494.8" y2="422.3" stroke="#111" stroke-width="1.2"/>
<line x1="494.8" y1="213.5" x2="494.8" y2="218" stroke="#111" stroke-width="1.2"/>
<line x1="528.7" y1="417.8" x2="528.7" y2="422.3" stroke="#111" stroke-width="1.2"/>
<line x1="528.7" y1="213.5" x2="528.7" y2="218" stroke="#111" stroke-width="1.2"/>
<line x1="562.6" y1="417.8" x2="562.6" y2="422.3" stroke="#111" stroke-width="1.2"/>
<line x1="562.6" y1="213.5" x2="562.6" y2="218" stroke="#111" stroke-width="1.2"/>
<line x1="596.5" y1="417.8" x2="596.5" y2="422.3" stroke="#111" stroke-width="1.2"/>
<line x1="596.5" y1="213.5" x2="596.5" y2="218" stroke="#111" stroke-width="1.2"/>
<line x1="630.4" y1="417.8" x2="630.4" y2="422.3" stroke="#111" stroke-width="1.2"/>
<line x1="630.4" y1="213.5" x2="630.4" y2="218" stroke="#111" stroke-width="1.2"/>
<line x1="664.3" y1="417.8" x2="664.3" y2="422.3" stroke="#111" stroke-width="1.2"/>
<line x1="664.3" y1="213.5" x2="664.3" y2="218" stroke="#111" stroke-width="1.2"/>
<line x1="424.2" y1="331.99" x2="424.2" y2="344.71" stroke="#111" stroke-width="1.5"/>
<line x1="421.2" y1="331.99" x2="427.2" y2="331.99" stroke="#111" stroke-width="1.5"/>
<line x1="421.2" y1="344.71" x2="427.2" y2="344.71" stroke="#111" stroke-width="1.5"/>
<rect x="421.6" y="335.65" width="5.2" height="5.4" fill="#111"/>
<line x1="458" y1="284.78" x2="458" y2="298.4" stroke="#111" stroke-width="1.5"/>
<line x1="455" y1="284.78" x2="461" y2="284.78" stroke="#111" stroke-width="1.5"/>
<line x1="455" y1="298.4" x2="461" y2="298.4" stroke="#111" stroke-width="1.5"/>
<rect x="455.4" y="288.89" width="5.2" height="5.4" fill="#111"/>
<line x1="493" y1="239.61" x2="493" y2="252.32" stroke="#111" stroke-width="1.5"/>
<line x1="490" y1="239.61" x2="496" y2="239.61" stroke="#111" stroke-width="1.5"/>
<line x1="490" y1="252.32" x2="496" y2="252.32" stroke="#111" stroke-width="1.5"/>
<rect x="490.4" y="243.26" width="5.2" height="5.4" fill="#111"/>
<line x1="527.6" y1="235.75" x2="527.6" y2="250.27" stroke="#111" stroke-width="1.5"/>
<line x1="524.6" y1="235.75" x2="530.6" y2="235.75" stroke="#111" stroke-width="1.5"/>
<line x1="524.6" y1="250.27" x2="530.6" y2="250.27" stroke="#111" stroke-width="1.5"/>
<rect x="525" y="240.31" width="5.2" height="5.4" fill="#111"/>
<line x1="561.4" y1="220.76" x2="561.4" y2="233.48" stroke="#111" stroke-width="1.5"/>
<line x1="558.4" y1="220.76" x2="564.4" y2="220.76" stroke="#111" stroke-width="1.5"/>
<line x1="558.4" y1="233.48" x2="564.4" y2="233.48" stroke="#111" stroke-width="1.5"/>
<rect x="558.8" y="224.42" width="5.2" height="5.4" fill="#111"/>
<line x1="595.6" y1="223.03" x2="595.6" y2="235.75" stroke="#111" stroke-width="1.5"/>
<line x1="592.6" y1="223.03" x2="598.6" y2="223.03" stroke="#111" stroke-width="1.5"/>
<line x1="592.6" y1="235.75" x2="598.6" y2="235.75" stroke="#111" stroke-width="1.5"/>
<rect x="593" y="226.69" width="5.2" height="5.4" fill="#111"/>
<line x1="630.4" y1="224.62" x2="630.4" y2="237.79" stroke="#111" stroke-width="1.5"/>
<line x1="627.4" y1="224.62" x2="633.4" y2="224.62" stroke="#111" stroke-width="1.5"/>
<line x1="627.4" y1="237.79" x2="633.4" y2="237.79" stroke="#111" stroke-width="1.5"/>
<rect x="627.8" y="228.51" width="5.2" height="5.4" fill="#111"/>
<line x1="665.2" y1="220.31" x2="665.2" y2="233.02" stroke="#111" stroke-width="1.5"/>
<line x1="662.2" y1="220.31" x2="668.2" y2="220.31" stroke="#111" stroke-width="1.5"/>
<line x1="662.2" y1="233.02" x2="668.2" y2="233.02" stroke="#111" stroke-width="1.5"/>
<rect x="662.6" y="223.97" width="5.2" height="5.4" fill="#111"/>
<text transform="translate(368.8,316) rotate(-90) scale(1,1)" font-size="14.7" text-anchor="middle" fill="#111">Crystallinity index CI [%]</text>
<text class="ns" transform="translate(423.4,431) rotate(90) scale(1,1)" font-size="12" fill="#111">Untreated</text>
<text class="ns" transform="translate(457.3,431) rotate(90) scale(1,1)" font-size="12" fill="#111">1% H<tspan font-size="7.2" dy="2.52">2</tspan><tspan dy="-2.52">SO</tspan><tspan font-size="7.2" dy="2.52">4</tspan><tspan dy="-2.52"> + 0% NaOH</tspan></text>
<text class="ns" transform="translate(491.2,431) rotate(90) scale(1,1)" font-size="12" fill="#111">1% H<tspan font-size="7.2" dy="2.52">2</tspan><tspan dy="-2.52">SO</tspan><tspan font-size="7.2" dy="2.52">4</tspan><tspan dy="-2.52"> + 0.25% NaOH</tspan></text>
<text class="ns" transform="translate(525.1,431) rotate(90) scale(1,1)" font-size="12" fill="#111">1% H<tspan font-size="7.2" dy="2.52">2</tspan><tspan dy="-2.52">SO</tspan><tspan font-size="7.2" dy="2.52">4</tspan><tspan dy="-2.52"> + 0.5% NaOH</tspan></text>
<text class="ns" transform="translate(559,431) rotate(90) scale(1,1)" font-size="12" fill="#111">1% H<tspan font-size="7.2" dy="2.52">2</tspan><tspan dy="-2.52">SO</tspan><tspan font-size="7.2" dy="2.52">4</tspan><tspan dy="-2.52"> + 1% NaOH</tspan></text>
<text class="ns" transform="translate(592.9,431) rotate(90) scale(1,1)" font-size="12" fill="#111">1% H<tspan font-size="7.2" dy="2.52">2</tspan><tspan dy="-2.52">SO</tspan><tspan font-size="7.2" dy="2.52">4</tspan><tspan dy="-2.52"> + 2% NaOH</tspan></text>
<text class="ns" transform="translate(626.8,431) rotate(90) scale(1,1)" font-size="12" fill="#111">1% H<tspan font-size="7.2" dy="2.52">2</tspan><tspan dy="-2.52">SO</tspan><tspan font-size="7.2" dy="2.52">4</tspan><tspan dy="-2.52"> + 3% NaOH</tspan></text>
<text class="ns" transform="translate(660.7,431) rotate(90) scale(1,1)" font-size="12" fill="#111">1% H<tspan font-size="7.2" dy="2.52">2</tspan><tspan dy="-2.52">SO</tspan><tspan font-size="7.2" dy="2.52">4</tspan><tspan dy="-2.52"> + 4% NaOH</tspan></text>
</svg></body></html>
